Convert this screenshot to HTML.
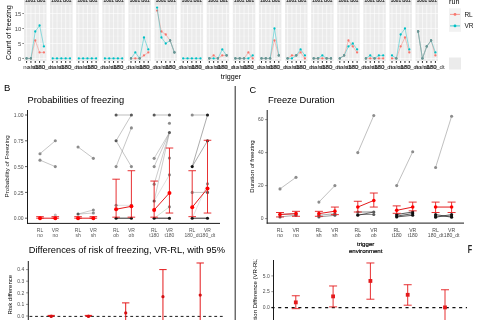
<!DOCTYPE html>
<html><head><meta charset="utf-8"><style>
html,body{margin:0;padding:0;background:#fff;width:480px;height:320px;overflow:hidden}
svg{display:block;font-family:"Liberation Sans", sans-serif;filter:blur(0.3px)}
</style></head><body>
<svg width="480" height="320" viewBox="0 0 480 320">
<rect width="480" height="320" fill="#fff"/>
<rect x="24" y="-6" width="22.5" height="11" fill="#E3E3E3"/>
<text x="35.25" y="1.9" font-size="6.6" fill="#222" stroke="#222" stroke-width="0.2" text-anchor="middle" textLength="20" lengthAdjust="spacingAndGlyphs">1001 B01</text>
<rect x="24" y="5.0" width="22.5" height="56.0" fill="#EBEBEB"/>
<line x1="24" x2="46.5" y1="50.96" y2="50.96" stroke="#F7F7F7" stroke-width="0.35"/>
<line x1="24" x2="46.5" y1="35.99" y2="35.99" stroke="#F7F7F7" stroke-width="0.35"/>
<line x1="24" x2="46.5" y1="21.01" y2="21.01" stroke="#F7F7F7" stroke-width="0.35"/>
<line x1="24" x2="46.5" y1="6.04" y2="6.04" stroke="#F7F7F7" stroke-width="0.35"/>
<line x1="24" x2="46.5" y1="58.45" y2="58.45" stroke="#FFFFFF" stroke-width="0.6"/>
<line x1="24" x2="46.5" y1="43.48" y2="43.48" stroke="#FFFFFF" stroke-width="0.6"/>
<line x1="24" x2="46.5" y1="28.5" y2="28.5" stroke="#FFFFFF" stroke-width="0.6"/>
<line x1="24" x2="46.5" y1="13.52" y2="13.52" stroke="#FFFFFF" stroke-width="0.6"/>
<line x1="26.6" x2="26.6" y1="5.0" y2="61.0" stroke="#FFFFFF" stroke-width="0.6"/>
<line x1="26.6" x2="26.6" y1="61.1" y2="62.8" stroke="#111" stroke-width="1.0"/>
<line x1="30.93" x2="30.93" y1="5.0" y2="61.0" stroke="#FFFFFF" stroke-width="0.6"/>
<line x1="30.93" x2="30.93" y1="61.1" y2="62.8" stroke="#111" stroke-width="1.0"/>
<line x1="35.25" x2="35.25" y1="5.0" y2="61.0" stroke="#FFFFFF" stroke-width="0.6"/>
<line x1="35.25" x2="35.25" y1="61.1" y2="62.8" stroke="#111" stroke-width="1.0"/>
<line x1="39.58" x2="39.58" y1="5.0" y2="61.0" stroke="#FFFFFF" stroke-width="0.6"/>
<line x1="39.58" x2="39.58" y1="61.1" y2="62.8" stroke="#111" stroke-width="1.0"/>
<line x1="43.91" x2="43.91" y1="5.0" y2="61.0" stroke="#FFFFFF" stroke-width="0.6"/>
<line x1="43.91" x2="43.91" y1="61.1" y2="62.8" stroke="#111" stroke-width="1.0"/>
<text x="26.6" y="69.2" font-size="6" fill="#2E2E2E" text-anchor="middle">no</text>
<text x="30.93" y="69.2" font-size="6" fill="#2E2E2E" text-anchor="middle">sh</text>
<text x="35.25" y="69.2" font-size="6" fill="#2E2E2E" text-anchor="middle">ob</text>
<text x="39.58" y="69.2" font-size="6" fill="#2E2E2E" text-anchor="middle">t180</text>
<text x="43.91" y="69.2" font-size="6" fill="#2E2E2E" text-anchor="middle">180_dt</text>
<polyline points="26.6,58.45 30.93,58.45 35.25,40.48 39.58,52.46 43.91,52.46" fill="none" stroke="#F8766D" stroke-width="0.6" stroke-opacity="0.7"/>
<circle cx="26.6" cy="58.45" r="1.15" fill="#F8766D"/>
<circle cx="30.93" cy="58.45" r="1.15" fill="#F8766D"/>
<circle cx="35.25" cy="40.48" r="1.15" fill="#F8766D"/>
<circle cx="39.58" cy="52.46" r="1.15" fill="#F8766D"/>
<circle cx="43.91" cy="52.46" r="1.15" fill="#F8766D"/>
<polyline points="26.6,58.45 30.93,58.45 35.25,31.5 39.58,25.51 43.91,46.47" fill="none" stroke="#00BFC4" stroke-width="0.6" stroke-opacity="0.7"/>
<circle cx="26.6" cy="58.45" r="1.15" fill="#00BFC4"/>
<circle cx="30.93" cy="58.45" r="1.15" fill="#00BFC4"/>
<circle cx="35.25" cy="31.5" r="1.15" fill="#00BFC4"/>
<circle cx="39.58" cy="25.51" r="1.15" fill="#00BFC4"/>
<circle cx="43.91" cy="46.47" r="1.15" fill="#00BFC4"/>
<line x1="26.6" y1="58.45" x2="30.93" y2="58.45" stroke="#8AA8A6" stroke-width="0.6"/>
<circle cx="26.6" cy="58.45" r="1.15" fill="#72918F"/>
<circle cx="30.93" cy="58.45" r="1.15" fill="#72918F"/>
<rect x="50.1" y="-6" width="22.5" height="11" fill="#E3E3E3"/>
<text x="61.35" y="1.9" font-size="6.6" fill="#222" stroke="#222" stroke-width="0.2" text-anchor="middle" textLength="20" lengthAdjust="spacingAndGlyphs">1001 B01</text>
<rect x="50.1" y="5.0" width="22.5" height="56.0" fill="#EBEBEB"/>
<line x1="50.1" x2="72.6" y1="50.96" y2="50.96" stroke="#F7F7F7" stroke-width="0.35"/>
<line x1="50.1" x2="72.6" y1="35.99" y2="35.99" stroke="#F7F7F7" stroke-width="0.35"/>
<line x1="50.1" x2="72.6" y1="21.01" y2="21.01" stroke="#F7F7F7" stroke-width="0.35"/>
<line x1="50.1" x2="72.6" y1="6.04" y2="6.04" stroke="#F7F7F7" stroke-width="0.35"/>
<line x1="50.1" x2="72.6" y1="58.45" y2="58.45" stroke="#FFFFFF" stroke-width="0.6"/>
<line x1="50.1" x2="72.6" y1="43.48" y2="43.48" stroke="#FFFFFF" stroke-width="0.6"/>
<line x1="50.1" x2="72.6" y1="28.5" y2="28.5" stroke="#FFFFFF" stroke-width="0.6"/>
<line x1="50.1" x2="72.6" y1="13.52" y2="13.52" stroke="#FFFFFF" stroke-width="0.6"/>
<line x1="52.7" x2="52.7" y1="5.0" y2="61.0" stroke="#FFFFFF" stroke-width="0.6"/>
<line x1="52.7" x2="52.7" y1="61.1" y2="62.8" stroke="#111" stroke-width="1.0"/>
<line x1="57.03" x2="57.03" y1="5.0" y2="61.0" stroke="#FFFFFF" stroke-width="0.6"/>
<line x1="57.03" x2="57.03" y1="61.1" y2="62.8" stroke="#111" stroke-width="1.0"/>
<line x1="61.35" x2="61.35" y1="5.0" y2="61.0" stroke="#FFFFFF" stroke-width="0.6"/>
<line x1="61.35" x2="61.35" y1="61.1" y2="62.8" stroke="#111" stroke-width="1.0"/>
<line x1="65.68" x2="65.68" y1="5.0" y2="61.0" stroke="#FFFFFF" stroke-width="0.6"/>
<line x1="65.68" x2="65.68" y1="61.1" y2="62.8" stroke="#111" stroke-width="1.0"/>
<line x1="70.01" x2="70.01" y1="5.0" y2="61.0" stroke="#FFFFFF" stroke-width="0.6"/>
<line x1="70.01" x2="70.01" y1="61.1" y2="62.8" stroke="#111" stroke-width="1.0"/>
<text x="52.7" y="69.2" font-size="6" fill="#2E2E2E" text-anchor="middle">no</text>
<text x="57.03" y="69.2" font-size="6" fill="#2E2E2E" text-anchor="middle">sh</text>
<text x="61.35" y="69.2" font-size="6" fill="#2E2E2E" text-anchor="middle">ob</text>
<text x="65.68" y="69.2" font-size="6" fill="#2E2E2E" text-anchor="middle">t180</text>
<text x="70.01" y="69.2" font-size="6" fill="#2E2E2E" text-anchor="middle">180_dt</text>
<polyline points="52.7,58.45 57.03,58.45 61.35,58.45 65.68,58.45 70.01,58.45" fill="none" stroke="#00BFC4" stroke-width="0.6" stroke-opacity="0.7"/>
<circle cx="52.7" cy="58.45" r="1.15" fill="#00BFC4"/>
<circle cx="57.03" cy="58.45" r="1.15" fill="#00BFC4"/>
<circle cx="61.35" cy="58.45" r="1.15" fill="#00BFC4"/>
<circle cx="65.68" cy="58.45" r="1.15" fill="#00BFC4"/>
<circle cx="70.01" cy="58.45" r="1.15" fill="#00BFC4"/>
<rect x="76.2" y="-6" width="22.5" height="11" fill="#E3E3E3"/>
<text x="87.45" y="1.9" font-size="6.6" fill="#222" stroke="#222" stroke-width="0.2" text-anchor="middle" textLength="20" lengthAdjust="spacingAndGlyphs">1001 B01</text>
<rect x="76.2" y="5.0" width="22.5" height="56.0" fill="#EBEBEB"/>
<line x1="76.2" x2="98.7" y1="50.96" y2="50.96" stroke="#F7F7F7" stroke-width="0.35"/>
<line x1="76.2" x2="98.7" y1="35.99" y2="35.99" stroke="#F7F7F7" stroke-width="0.35"/>
<line x1="76.2" x2="98.7" y1="21.01" y2="21.01" stroke="#F7F7F7" stroke-width="0.35"/>
<line x1="76.2" x2="98.7" y1="6.04" y2="6.04" stroke="#F7F7F7" stroke-width="0.35"/>
<line x1="76.2" x2="98.7" y1="58.45" y2="58.45" stroke="#FFFFFF" stroke-width="0.6"/>
<line x1="76.2" x2="98.7" y1="43.48" y2="43.48" stroke="#FFFFFF" stroke-width="0.6"/>
<line x1="76.2" x2="98.7" y1="28.5" y2="28.5" stroke="#FFFFFF" stroke-width="0.6"/>
<line x1="76.2" x2="98.7" y1="13.52" y2="13.52" stroke="#FFFFFF" stroke-width="0.6"/>
<line x1="78.8" x2="78.8" y1="5.0" y2="61.0" stroke="#FFFFFF" stroke-width="0.6"/>
<line x1="78.8" x2="78.8" y1="61.1" y2="62.8" stroke="#111" stroke-width="1.0"/>
<line x1="83.13" x2="83.13" y1="5.0" y2="61.0" stroke="#FFFFFF" stroke-width="0.6"/>
<line x1="83.13" x2="83.13" y1="61.1" y2="62.8" stroke="#111" stroke-width="1.0"/>
<line x1="87.45" x2="87.45" y1="5.0" y2="61.0" stroke="#FFFFFF" stroke-width="0.6"/>
<line x1="87.45" x2="87.45" y1="61.1" y2="62.8" stroke="#111" stroke-width="1.0"/>
<line x1="91.78" x2="91.78" y1="5.0" y2="61.0" stroke="#FFFFFF" stroke-width="0.6"/>
<line x1="91.78" x2="91.78" y1="61.1" y2="62.8" stroke="#111" stroke-width="1.0"/>
<line x1="96.11" x2="96.11" y1="5.0" y2="61.0" stroke="#FFFFFF" stroke-width="0.6"/>
<line x1="96.11" x2="96.11" y1="61.1" y2="62.8" stroke="#111" stroke-width="1.0"/>
<text x="78.8" y="69.2" font-size="6" fill="#2E2E2E" text-anchor="middle">no</text>
<text x="83.13" y="69.2" font-size="6" fill="#2E2E2E" text-anchor="middle">sh</text>
<text x="87.45" y="69.2" font-size="6" fill="#2E2E2E" text-anchor="middle">ob</text>
<text x="91.78" y="69.2" font-size="6" fill="#2E2E2E" text-anchor="middle">t180</text>
<text x="96.11" y="69.2" font-size="6" fill="#2E2E2E" text-anchor="middle">180_dt</text>
<polyline points="78.8,58.45 83.13,58.45 87.45,58.45 91.78,58.45 96.11,58.45" fill="none" stroke="#00BFC4" stroke-width="0.6" stroke-opacity="0.7"/>
<circle cx="78.8" cy="58.45" r="1.15" fill="#00BFC4"/>
<circle cx="83.13" cy="58.45" r="1.15" fill="#00BFC4"/>
<circle cx="87.45" cy="58.45" r="1.15" fill="#00BFC4"/>
<circle cx="91.78" cy="58.45" r="1.15" fill="#00BFC4"/>
<circle cx="96.11" cy="58.45" r="1.15" fill="#00BFC4"/>
<rect x="102.3" y="-6" width="22.5" height="11" fill="#E3E3E3"/>
<text x="113.55" y="1.9" font-size="6.6" fill="#222" stroke="#222" stroke-width="0.2" text-anchor="middle" textLength="20" lengthAdjust="spacingAndGlyphs">1001 B01</text>
<rect x="102.3" y="5.0" width="22.5" height="56.0" fill="#EBEBEB"/>
<line x1="102.3" x2="124.8" y1="50.96" y2="50.96" stroke="#F7F7F7" stroke-width="0.35"/>
<line x1="102.3" x2="124.8" y1="35.99" y2="35.99" stroke="#F7F7F7" stroke-width="0.35"/>
<line x1="102.3" x2="124.8" y1="21.01" y2="21.01" stroke="#F7F7F7" stroke-width="0.35"/>
<line x1="102.3" x2="124.8" y1="6.04" y2="6.04" stroke="#F7F7F7" stroke-width="0.35"/>
<line x1="102.3" x2="124.8" y1="58.45" y2="58.45" stroke="#FFFFFF" stroke-width="0.6"/>
<line x1="102.3" x2="124.8" y1="43.48" y2="43.48" stroke="#FFFFFF" stroke-width="0.6"/>
<line x1="102.3" x2="124.8" y1="28.5" y2="28.5" stroke="#FFFFFF" stroke-width="0.6"/>
<line x1="102.3" x2="124.8" y1="13.52" y2="13.52" stroke="#FFFFFF" stroke-width="0.6"/>
<line x1="104.9" x2="104.9" y1="5.0" y2="61.0" stroke="#FFFFFF" stroke-width="0.6"/>
<line x1="104.9" x2="104.9" y1="61.1" y2="62.8" stroke="#111" stroke-width="1.0"/>
<line x1="109.23" x2="109.23" y1="5.0" y2="61.0" stroke="#FFFFFF" stroke-width="0.6"/>
<line x1="109.23" x2="109.23" y1="61.1" y2="62.8" stroke="#111" stroke-width="1.0"/>
<line x1="113.55" x2="113.55" y1="5.0" y2="61.0" stroke="#FFFFFF" stroke-width="0.6"/>
<line x1="113.55" x2="113.55" y1="61.1" y2="62.8" stroke="#111" stroke-width="1.0"/>
<line x1="117.88" x2="117.88" y1="5.0" y2="61.0" stroke="#FFFFFF" stroke-width="0.6"/>
<line x1="117.88" x2="117.88" y1="61.1" y2="62.8" stroke="#111" stroke-width="1.0"/>
<line x1="122.21" x2="122.21" y1="5.0" y2="61.0" stroke="#FFFFFF" stroke-width="0.6"/>
<line x1="122.21" x2="122.21" y1="61.1" y2="62.8" stroke="#111" stroke-width="1.0"/>
<text x="104.9" y="69.2" font-size="6" fill="#2E2E2E" text-anchor="middle">no</text>
<text x="109.23" y="69.2" font-size="6" fill="#2E2E2E" text-anchor="middle">sh</text>
<text x="113.55" y="69.2" font-size="6" fill="#2E2E2E" text-anchor="middle">ob</text>
<text x="117.88" y="69.2" font-size="6" fill="#2E2E2E" text-anchor="middle">t180</text>
<text x="122.21" y="69.2" font-size="6" fill="#2E2E2E" text-anchor="middle">180_dt</text>
<polyline points="104.9,58.45 109.23,58.45 113.55,58.45 117.88,58.45 122.21,58.45" fill="none" stroke="#00BFC4" stroke-width="0.6" stroke-opacity="0.7"/>
<circle cx="104.9" cy="58.45" r="1.15" fill="#00BFC4"/>
<circle cx="109.23" cy="58.45" r="1.15" fill="#00BFC4"/>
<circle cx="113.55" cy="58.45" r="1.15" fill="#00BFC4"/>
<circle cx="117.88" cy="58.45" r="1.15" fill="#00BFC4"/>
<circle cx="122.21" cy="58.45" r="1.15" fill="#00BFC4"/>
<rect x="128.4" y="-6" width="22.5" height="11" fill="#E3E3E3"/>
<text x="139.65" y="1.9" font-size="6.6" fill="#222" stroke="#222" stroke-width="0.2" text-anchor="middle" textLength="20" lengthAdjust="spacingAndGlyphs">1001 B01</text>
<rect x="128.4" y="5.0" width="22.5" height="56.0" fill="#EBEBEB"/>
<line x1="128.4" x2="150.9" y1="50.96" y2="50.96" stroke="#F7F7F7" stroke-width="0.35"/>
<line x1="128.4" x2="150.9" y1="35.99" y2="35.99" stroke="#F7F7F7" stroke-width="0.35"/>
<line x1="128.4" x2="150.9" y1="21.01" y2="21.01" stroke="#F7F7F7" stroke-width="0.35"/>
<line x1="128.4" x2="150.9" y1="6.04" y2="6.04" stroke="#F7F7F7" stroke-width="0.35"/>
<line x1="128.4" x2="150.9" y1="58.45" y2="58.45" stroke="#FFFFFF" stroke-width="0.6"/>
<line x1="128.4" x2="150.9" y1="43.48" y2="43.48" stroke="#FFFFFF" stroke-width="0.6"/>
<line x1="128.4" x2="150.9" y1="28.5" y2="28.5" stroke="#FFFFFF" stroke-width="0.6"/>
<line x1="128.4" x2="150.9" y1="13.52" y2="13.52" stroke="#FFFFFF" stroke-width="0.6"/>
<line x1="131" x2="131" y1="5.0" y2="61.0" stroke="#FFFFFF" stroke-width="0.6"/>
<line x1="131" x2="131" y1="61.1" y2="62.8" stroke="#111" stroke-width="1.0"/>
<line x1="135.33" x2="135.33" y1="5.0" y2="61.0" stroke="#FFFFFF" stroke-width="0.6"/>
<line x1="135.33" x2="135.33" y1="61.1" y2="62.8" stroke="#111" stroke-width="1.0"/>
<line x1="139.65" x2="139.65" y1="5.0" y2="61.0" stroke="#FFFFFF" stroke-width="0.6"/>
<line x1="139.65" x2="139.65" y1="61.1" y2="62.8" stroke="#111" stroke-width="1.0"/>
<line x1="143.98" x2="143.98" y1="5.0" y2="61.0" stroke="#FFFFFF" stroke-width="0.6"/>
<line x1="143.98" x2="143.98" y1="61.1" y2="62.8" stroke="#111" stroke-width="1.0"/>
<line x1="148.31" x2="148.31" y1="5.0" y2="61.0" stroke="#FFFFFF" stroke-width="0.6"/>
<line x1="148.31" x2="148.31" y1="61.1" y2="62.8" stroke="#111" stroke-width="1.0"/>
<text x="131" y="69.2" font-size="6" fill="#2E2E2E" text-anchor="middle">no</text>
<text x="135.33" y="69.2" font-size="6" fill="#2E2E2E" text-anchor="middle">sh</text>
<text x="139.65" y="69.2" font-size="6" fill="#2E2E2E" text-anchor="middle">ob</text>
<text x="143.98" y="69.2" font-size="6" fill="#2E2E2E" text-anchor="middle">t180</text>
<text x="148.31" y="69.2" font-size="6" fill="#2E2E2E" text-anchor="middle">180_dt</text>
<polyline points="131,58.45 135.33,58.45 139.65,58.45 143.98,55.46 148.31,52.46" fill="none" stroke="#F8766D" stroke-width="0.6" stroke-opacity="0.7"/>
<circle cx="131" cy="58.45" r="1.15" fill="#F8766D"/>
<circle cx="135.33" cy="58.45" r="1.15" fill="#F8766D"/>
<circle cx="139.65" cy="58.45" r="1.15" fill="#F8766D"/>
<circle cx="143.98" cy="55.46" r="1.15" fill="#F8766D"/>
<circle cx="148.31" cy="52.46" r="1.15" fill="#F8766D"/>
<polyline points="131,58.45 135.33,52.46 139.65,58.45 143.98,37.48 148.31,49.47" fill="none" stroke="#00BFC4" stroke-width="0.6" stroke-opacity="0.7"/>
<circle cx="131" cy="58.45" r="1.15" fill="#00BFC4"/>
<circle cx="135.33" cy="52.46" r="1.15" fill="#00BFC4"/>
<circle cx="139.65" cy="58.45" r="1.15" fill="#00BFC4"/>
<circle cx="143.98" cy="37.48" r="1.15" fill="#00BFC4"/>
<circle cx="148.31" cy="49.47" r="1.15" fill="#00BFC4"/>
<circle cx="131" cy="58.45" r="1.15" fill="#72918F"/>
<circle cx="139.65" cy="58.45" r="1.15" fill="#72918F"/>
<rect x="154.5" y="-6" width="22.5" height="11" fill="#E3E3E3"/>
<text x="165.75" y="1.9" font-size="6.6" fill="#222" stroke="#222" stroke-width="0.2" text-anchor="middle" textLength="20" lengthAdjust="spacingAndGlyphs">1001 B01</text>
<rect x="154.5" y="5.0" width="22.5" height="56.0" fill="#EBEBEB"/>
<line x1="154.5" x2="177" y1="50.96" y2="50.96" stroke="#F7F7F7" stroke-width="0.35"/>
<line x1="154.5" x2="177" y1="35.99" y2="35.99" stroke="#F7F7F7" stroke-width="0.35"/>
<line x1="154.5" x2="177" y1="21.01" y2="21.01" stroke="#F7F7F7" stroke-width="0.35"/>
<line x1="154.5" x2="177" y1="6.04" y2="6.04" stroke="#F7F7F7" stroke-width="0.35"/>
<line x1="154.5" x2="177" y1="58.45" y2="58.45" stroke="#FFFFFF" stroke-width="0.6"/>
<line x1="154.5" x2="177" y1="43.48" y2="43.48" stroke="#FFFFFF" stroke-width="0.6"/>
<line x1="154.5" x2="177" y1="28.5" y2="28.5" stroke="#FFFFFF" stroke-width="0.6"/>
<line x1="154.5" x2="177" y1="13.52" y2="13.52" stroke="#FFFFFF" stroke-width="0.6"/>
<line x1="157.1" x2="157.1" y1="5.0" y2="61.0" stroke="#FFFFFF" stroke-width="0.6"/>
<line x1="157.1" x2="157.1" y1="61.1" y2="62.8" stroke="#111" stroke-width="1.0"/>
<line x1="161.43" x2="161.43" y1="5.0" y2="61.0" stroke="#FFFFFF" stroke-width="0.6"/>
<line x1="161.43" x2="161.43" y1="61.1" y2="62.8" stroke="#111" stroke-width="1.0"/>
<line x1="165.75" x2="165.75" y1="5.0" y2="61.0" stroke="#FFFFFF" stroke-width="0.6"/>
<line x1="165.75" x2="165.75" y1="61.1" y2="62.8" stroke="#111" stroke-width="1.0"/>
<line x1="170.08" x2="170.08" y1="5.0" y2="61.0" stroke="#FFFFFF" stroke-width="0.6"/>
<line x1="170.08" x2="170.08" y1="61.1" y2="62.8" stroke="#111" stroke-width="1.0"/>
<line x1="174.41" x2="174.41" y1="5.0" y2="61.0" stroke="#FFFFFF" stroke-width="0.6"/>
<line x1="174.41" x2="174.41" y1="61.1" y2="62.8" stroke="#111" stroke-width="1.0"/>
<text x="157.1" y="69.2" font-size="6" fill="#2E2E2E" text-anchor="middle">no</text>
<text x="161.43" y="69.2" font-size="6" fill="#2E2E2E" text-anchor="middle">sh</text>
<text x="165.75" y="69.2" font-size="6" fill="#2E2E2E" text-anchor="middle">ob</text>
<text x="170.08" y="69.2" font-size="6" fill="#2E2E2E" text-anchor="middle">t180</text>
<text x="174.41" y="69.2" font-size="6" fill="#2E2E2E" text-anchor="middle">180_dt</text>
<polyline points="157.1,10.53 161.43,31.5 165.75,34.49 170.08,40.48 174.41,52.46" fill="none" stroke="#F8766D" stroke-width="0.6" stroke-opacity="0.7"/>
<circle cx="157.1" cy="10.53" r="1.15" fill="#F8766D"/>
<circle cx="161.43" cy="31.5" r="1.15" fill="#F8766D"/>
<circle cx="165.75" cy="34.49" r="1.15" fill="#F8766D"/>
<circle cx="170.08" cy="40.48" r="1.15" fill="#F8766D"/>
<circle cx="174.41" cy="52.46" r="1.15" fill="#F8766D"/>
<polyline points="157.1,7.54 161.43,37.48 165.75,43.48 170.08,40.48 174.41,52.46" fill="none" stroke="#00BFC4" stroke-width="0.6" stroke-opacity="0.7"/>
<circle cx="157.1" cy="7.54" r="1.15" fill="#00BFC4"/>
<circle cx="161.43" cy="37.48" r="1.15" fill="#00BFC4"/>
<circle cx="165.75" cy="43.48" r="1.15" fill="#00BFC4"/>
<circle cx="170.08" cy="40.48" r="1.15" fill="#00BFC4"/>
<circle cx="174.41" cy="52.46" r="1.15" fill="#00BFC4"/>
<line x1="170.08" y1="40.48" x2="174.41" y2="52.46" stroke="#8AA8A6" stroke-width="0.6"/>
<circle cx="170.08" cy="40.48" r="1.15" fill="#72918F"/>
<circle cx="174.41" cy="52.46" r="1.15" fill="#72918F"/>
<rect x="180.6" y="-6" width="22.5" height="11" fill="#E3E3E3"/>
<text x="191.85" y="1.9" font-size="6.6" fill="#222" stroke="#222" stroke-width="0.2" text-anchor="middle" textLength="20" lengthAdjust="spacingAndGlyphs">1001 B01</text>
<rect x="180.6" y="5.0" width="22.5" height="56.0" fill="#EBEBEB"/>
<line x1="180.6" x2="203.1" y1="50.96" y2="50.96" stroke="#F7F7F7" stroke-width="0.35"/>
<line x1="180.6" x2="203.1" y1="35.99" y2="35.99" stroke="#F7F7F7" stroke-width="0.35"/>
<line x1="180.6" x2="203.1" y1="21.01" y2="21.01" stroke="#F7F7F7" stroke-width="0.35"/>
<line x1="180.6" x2="203.1" y1="6.04" y2="6.04" stroke="#F7F7F7" stroke-width="0.35"/>
<line x1="180.6" x2="203.1" y1="58.45" y2="58.45" stroke="#FFFFFF" stroke-width="0.6"/>
<line x1="180.6" x2="203.1" y1="43.48" y2="43.48" stroke="#FFFFFF" stroke-width="0.6"/>
<line x1="180.6" x2="203.1" y1="28.5" y2="28.5" stroke="#FFFFFF" stroke-width="0.6"/>
<line x1="180.6" x2="203.1" y1="13.52" y2="13.52" stroke="#FFFFFF" stroke-width="0.6"/>
<line x1="183.2" x2="183.2" y1="5.0" y2="61.0" stroke="#FFFFFF" stroke-width="0.6"/>
<line x1="183.2" x2="183.2" y1="61.1" y2="62.8" stroke="#111" stroke-width="1.0"/>
<line x1="187.53" x2="187.53" y1="5.0" y2="61.0" stroke="#FFFFFF" stroke-width="0.6"/>
<line x1="187.53" x2="187.53" y1="61.1" y2="62.8" stroke="#111" stroke-width="1.0"/>
<line x1="191.85" x2="191.85" y1="5.0" y2="61.0" stroke="#FFFFFF" stroke-width="0.6"/>
<line x1="191.85" x2="191.85" y1="61.1" y2="62.8" stroke="#111" stroke-width="1.0"/>
<line x1="196.18" x2="196.18" y1="5.0" y2="61.0" stroke="#FFFFFF" stroke-width="0.6"/>
<line x1="196.18" x2="196.18" y1="61.1" y2="62.8" stroke="#111" stroke-width="1.0"/>
<line x1="200.51" x2="200.51" y1="5.0" y2="61.0" stroke="#FFFFFF" stroke-width="0.6"/>
<line x1="200.51" x2="200.51" y1="61.1" y2="62.8" stroke="#111" stroke-width="1.0"/>
<text x="183.2" y="69.2" font-size="6" fill="#2E2E2E" text-anchor="middle">no</text>
<text x="187.53" y="69.2" font-size="6" fill="#2E2E2E" text-anchor="middle">sh</text>
<text x="191.85" y="69.2" font-size="6" fill="#2E2E2E" text-anchor="middle">ob</text>
<text x="196.18" y="69.2" font-size="6" fill="#2E2E2E" text-anchor="middle">t180</text>
<text x="200.51" y="69.2" font-size="6" fill="#2E2E2E" text-anchor="middle">180_dt</text>
<polyline points="183.2,58.45 187.53,58.45 191.85,58.45 196.18,58.45 200.51,58.45" fill="none" stroke="#00BFC4" stroke-width="0.6" stroke-opacity="0.7"/>
<circle cx="183.2" cy="58.45" r="1.15" fill="#00BFC4"/>
<circle cx="187.53" cy="58.45" r="1.15" fill="#00BFC4"/>
<circle cx="191.85" cy="58.45" r="1.15" fill="#00BFC4"/>
<circle cx="196.18" cy="58.45" r="1.15" fill="#00BFC4"/>
<circle cx="200.51" cy="58.45" r="1.15" fill="#00BFC4"/>
<rect x="206.7" y="-6" width="22.5" height="11" fill="#E3E3E3"/>
<text x="217.95" y="1.9" font-size="6.6" fill="#222" stroke="#222" stroke-width="0.2" text-anchor="middle" textLength="20" lengthAdjust="spacingAndGlyphs">1001 B01</text>
<rect x="206.7" y="5.0" width="22.5" height="56.0" fill="#EBEBEB"/>
<line x1="206.7" x2="229.2" y1="50.96" y2="50.96" stroke="#F7F7F7" stroke-width="0.35"/>
<line x1="206.7" x2="229.2" y1="35.99" y2="35.99" stroke="#F7F7F7" stroke-width="0.35"/>
<line x1="206.7" x2="229.2" y1="21.01" y2="21.01" stroke="#F7F7F7" stroke-width="0.35"/>
<line x1="206.7" x2="229.2" y1="6.04" y2="6.04" stroke="#F7F7F7" stroke-width="0.35"/>
<line x1="206.7" x2="229.2" y1="58.45" y2="58.45" stroke="#FFFFFF" stroke-width="0.6"/>
<line x1="206.7" x2="229.2" y1="43.48" y2="43.48" stroke="#FFFFFF" stroke-width="0.6"/>
<line x1="206.7" x2="229.2" y1="28.5" y2="28.5" stroke="#FFFFFF" stroke-width="0.6"/>
<line x1="206.7" x2="229.2" y1="13.52" y2="13.52" stroke="#FFFFFF" stroke-width="0.6"/>
<line x1="209.3" x2="209.3" y1="5.0" y2="61.0" stroke="#FFFFFF" stroke-width="0.6"/>
<line x1="209.3" x2="209.3" y1="61.1" y2="62.8" stroke="#111" stroke-width="1.0"/>
<line x1="213.63" x2="213.63" y1="5.0" y2="61.0" stroke="#FFFFFF" stroke-width="0.6"/>
<line x1="213.63" x2="213.63" y1="61.1" y2="62.8" stroke="#111" stroke-width="1.0"/>
<line x1="217.95" x2="217.95" y1="5.0" y2="61.0" stroke="#FFFFFF" stroke-width="0.6"/>
<line x1="217.95" x2="217.95" y1="61.1" y2="62.8" stroke="#111" stroke-width="1.0"/>
<line x1="222.28" x2="222.28" y1="5.0" y2="61.0" stroke="#FFFFFF" stroke-width="0.6"/>
<line x1="222.28" x2="222.28" y1="61.1" y2="62.8" stroke="#111" stroke-width="1.0"/>
<line x1="226.61" x2="226.61" y1="5.0" y2="61.0" stroke="#FFFFFF" stroke-width="0.6"/>
<line x1="226.61" x2="226.61" y1="61.1" y2="62.8" stroke="#111" stroke-width="1.0"/>
<text x="209.3" y="69.2" font-size="6" fill="#2E2E2E" text-anchor="middle">no</text>
<text x="213.63" y="69.2" font-size="6" fill="#2E2E2E" text-anchor="middle">sh</text>
<text x="217.95" y="69.2" font-size="6" fill="#2E2E2E" text-anchor="middle">ob</text>
<text x="222.28" y="69.2" font-size="6" fill="#2E2E2E" text-anchor="middle">t180</text>
<text x="226.61" y="69.2" font-size="6" fill="#2E2E2E" text-anchor="middle">180_dt</text>
<polyline points="209.3,58.45 213.63,55.46 217.95,58.45 222.28,55.46 226.61,55.46" fill="none" stroke="#F8766D" stroke-width="0.6" stroke-opacity="0.7"/>
<circle cx="209.3" cy="58.45" r="1.15" fill="#F8766D"/>
<circle cx="213.63" cy="55.46" r="1.15" fill="#F8766D"/>
<circle cx="217.95" cy="58.45" r="1.15" fill="#F8766D"/>
<circle cx="222.28" cy="55.46" r="1.15" fill="#F8766D"/>
<circle cx="226.61" cy="55.46" r="1.15" fill="#F8766D"/>
<polyline points="209.3,58.45 213.63,58.45 217.95,58.45 222.28,49.47 226.61,55.46" fill="none" stroke="#00BFC4" stroke-width="0.6" stroke-opacity="0.7"/>
<circle cx="209.3" cy="58.45" r="1.15" fill="#00BFC4"/>
<circle cx="213.63" cy="58.45" r="1.15" fill="#00BFC4"/>
<circle cx="217.95" cy="58.45" r="1.15" fill="#00BFC4"/>
<circle cx="222.28" cy="49.47" r="1.15" fill="#00BFC4"/>
<circle cx="226.61" cy="55.46" r="1.15" fill="#00BFC4"/>
<circle cx="209.3" cy="58.45" r="1.15" fill="#72918F"/>
<circle cx="217.95" cy="58.45" r="1.15" fill="#72918F"/>
<circle cx="226.61" cy="55.46" r="1.15" fill="#72918F"/>
<rect x="232.8" y="-6" width="22.5" height="11" fill="#E3E3E3"/>
<text x="244.05" y="1.9" font-size="6.6" fill="#222" stroke="#222" stroke-width="0.2" text-anchor="middle" textLength="20" lengthAdjust="spacingAndGlyphs">1001 B01</text>
<rect x="232.8" y="5.0" width="22.5" height="56.0" fill="#EBEBEB"/>
<line x1="232.8" x2="255.3" y1="50.96" y2="50.96" stroke="#F7F7F7" stroke-width="0.35"/>
<line x1="232.8" x2="255.3" y1="35.99" y2="35.99" stroke="#F7F7F7" stroke-width="0.35"/>
<line x1="232.8" x2="255.3" y1="21.01" y2="21.01" stroke="#F7F7F7" stroke-width="0.35"/>
<line x1="232.8" x2="255.3" y1="6.04" y2="6.04" stroke="#F7F7F7" stroke-width="0.35"/>
<line x1="232.8" x2="255.3" y1="58.45" y2="58.45" stroke="#FFFFFF" stroke-width="0.6"/>
<line x1="232.8" x2="255.3" y1="43.48" y2="43.48" stroke="#FFFFFF" stroke-width="0.6"/>
<line x1="232.8" x2="255.3" y1="28.5" y2="28.5" stroke="#FFFFFF" stroke-width="0.6"/>
<line x1="232.8" x2="255.3" y1="13.52" y2="13.52" stroke="#FFFFFF" stroke-width="0.6"/>
<line x1="235.4" x2="235.4" y1="5.0" y2="61.0" stroke="#FFFFFF" stroke-width="0.6"/>
<line x1="235.4" x2="235.4" y1="61.1" y2="62.8" stroke="#111" stroke-width="1.0"/>
<line x1="239.73" x2="239.73" y1="5.0" y2="61.0" stroke="#FFFFFF" stroke-width="0.6"/>
<line x1="239.73" x2="239.73" y1="61.1" y2="62.8" stroke="#111" stroke-width="1.0"/>
<line x1="244.05" x2="244.05" y1="5.0" y2="61.0" stroke="#FFFFFF" stroke-width="0.6"/>
<line x1="244.05" x2="244.05" y1="61.1" y2="62.8" stroke="#111" stroke-width="1.0"/>
<line x1="248.38" x2="248.38" y1="5.0" y2="61.0" stroke="#FFFFFF" stroke-width="0.6"/>
<line x1="248.38" x2="248.38" y1="61.1" y2="62.8" stroke="#111" stroke-width="1.0"/>
<line x1="252.71" x2="252.71" y1="5.0" y2="61.0" stroke="#FFFFFF" stroke-width="0.6"/>
<line x1="252.71" x2="252.71" y1="61.1" y2="62.8" stroke="#111" stroke-width="1.0"/>
<text x="235.4" y="69.2" font-size="6" fill="#2E2E2E" text-anchor="middle">no</text>
<text x="239.73" y="69.2" font-size="6" fill="#2E2E2E" text-anchor="middle">sh</text>
<text x="244.05" y="69.2" font-size="6" fill="#2E2E2E" text-anchor="middle">ob</text>
<text x="248.38" y="69.2" font-size="6" fill="#2E2E2E" text-anchor="middle">t180</text>
<text x="252.71" y="69.2" font-size="6" fill="#2E2E2E" text-anchor="middle">180_dt</text>
<polyline points="235.4,58.45 239.73,58.45 244.05,58.45 248.38,52.46 252.71,58.45" fill="none" stroke="#F8766D" stroke-width="0.6" stroke-opacity="0.7"/>
<circle cx="235.4" cy="58.45" r="1.15" fill="#F8766D"/>
<circle cx="239.73" cy="58.45" r="1.15" fill="#F8766D"/>
<circle cx="244.05" cy="58.45" r="1.15" fill="#F8766D"/>
<circle cx="248.38" cy="52.46" r="1.15" fill="#F8766D"/>
<circle cx="252.71" cy="58.45" r="1.15" fill="#F8766D"/>
<polyline points="235.4,58.45 239.73,58.45 244.05,58.45 248.38,58.45 252.71,55.46" fill="none" stroke="#00BFC4" stroke-width="0.6" stroke-opacity="0.7"/>
<circle cx="235.4" cy="58.45" r="1.15" fill="#00BFC4"/>
<circle cx="239.73" cy="58.45" r="1.15" fill="#00BFC4"/>
<circle cx="244.05" cy="58.45" r="1.15" fill="#00BFC4"/>
<circle cx="248.38" cy="58.45" r="1.15" fill="#00BFC4"/>
<circle cx="252.71" cy="55.46" r="1.15" fill="#00BFC4"/>
<line x1="235.4" y1="58.45" x2="239.73" y2="58.45" stroke="#8AA8A6" stroke-width="0.6"/>
<line x1="239.73" y1="58.45" x2="244.05" y2="58.45" stroke="#8AA8A6" stroke-width="0.6"/>
<circle cx="235.4" cy="58.45" r="1.15" fill="#72918F"/>
<circle cx="239.73" cy="58.45" r="1.15" fill="#72918F"/>
<circle cx="244.05" cy="58.45" r="1.15" fill="#72918F"/>
<rect x="258.9" y="-6" width="22.5" height="11" fill="#E3E3E3"/>
<text x="270.15" y="1.9" font-size="6.6" fill="#222" stroke="#222" stroke-width="0.2" text-anchor="middle" textLength="20" lengthAdjust="spacingAndGlyphs">1001 B01</text>
<rect x="258.9" y="5.0" width="22.5" height="56.0" fill="#EBEBEB"/>
<line x1="258.9" x2="281.4" y1="50.96" y2="50.96" stroke="#F7F7F7" stroke-width="0.35"/>
<line x1="258.9" x2="281.4" y1="35.99" y2="35.99" stroke="#F7F7F7" stroke-width="0.35"/>
<line x1="258.9" x2="281.4" y1="21.01" y2="21.01" stroke="#F7F7F7" stroke-width="0.35"/>
<line x1="258.9" x2="281.4" y1="6.04" y2="6.04" stroke="#F7F7F7" stroke-width="0.35"/>
<line x1="258.9" x2="281.4" y1="58.45" y2="58.45" stroke="#FFFFFF" stroke-width="0.6"/>
<line x1="258.9" x2="281.4" y1="43.48" y2="43.48" stroke="#FFFFFF" stroke-width="0.6"/>
<line x1="258.9" x2="281.4" y1="28.5" y2="28.5" stroke="#FFFFFF" stroke-width="0.6"/>
<line x1="258.9" x2="281.4" y1="13.52" y2="13.52" stroke="#FFFFFF" stroke-width="0.6"/>
<line x1="261.5" x2="261.5" y1="5.0" y2="61.0" stroke="#FFFFFF" stroke-width="0.6"/>
<line x1="261.5" x2="261.5" y1="61.1" y2="62.8" stroke="#111" stroke-width="1.0"/>
<line x1="265.83" x2="265.83" y1="5.0" y2="61.0" stroke="#FFFFFF" stroke-width="0.6"/>
<line x1="265.83" x2="265.83" y1="61.1" y2="62.8" stroke="#111" stroke-width="1.0"/>
<line x1="270.15" x2="270.15" y1="5.0" y2="61.0" stroke="#FFFFFF" stroke-width="0.6"/>
<line x1="270.15" x2="270.15" y1="61.1" y2="62.8" stroke="#111" stroke-width="1.0"/>
<line x1="274.48" x2="274.48" y1="5.0" y2="61.0" stroke="#FFFFFF" stroke-width="0.6"/>
<line x1="274.48" x2="274.48" y1="61.1" y2="62.8" stroke="#111" stroke-width="1.0"/>
<line x1="278.81" x2="278.81" y1="5.0" y2="61.0" stroke="#FFFFFF" stroke-width="0.6"/>
<line x1="278.81" x2="278.81" y1="61.1" y2="62.8" stroke="#111" stroke-width="1.0"/>
<text x="261.5" y="69.2" font-size="6" fill="#2E2E2E" text-anchor="middle">no</text>
<text x="265.83" y="69.2" font-size="6" fill="#2E2E2E" text-anchor="middle">sh</text>
<text x="270.15" y="69.2" font-size="6" fill="#2E2E2E" text-anchor="middle">ob</text>
<text x="274.48" y="69.2" font-size="6" fill="#2E2E2E" text-anchor="middle">t180</text>
<text x="278.81" y="69.2" font-size="6" fill="#2E2E2E" text-anchor="middle">180_dt</text>
<polyline points="261.5,58.45 265.83,58.45 270.15,58.45 274.48,40.48 278.81,55.46" fill="none" stroke="#F8766D" stroke-width="0.6" stroke-opacity="0.7"/>
<circle cx="261.5" cy="58.45" r="1.15" fill="#F8766D"/>
<circle cx="265.83" cy="58.45" r="1.15" fill="#F8766D"/>
<circle cx="270.15" cy="58.45" r="1.15" fill="#F8766D"/>
<circle cx="274.48" cy="40.48" r="1.15" fill="#F8766D"/>
<circle cx="278.81" cy="55.46" r="1.15" fill="#F8766D"/>
<polyline points="261.5,58.45 265.83,58.45 270.15,58.45 274.48,28.5 278.81,55.46" fill="none" stroke="#00BFC4" stroke-width="0.6" stroke-opacity="0.7"/>
<circle cx="261.5" cy="58.45" r="1.15" fill="#00BFC4"/>
<circle cx="265.83" cy="58.45" r="1.15" fill="#00BFC4"/>
<circle cx="270.15" cy="58.45" r="1.15" fill="#00BFC4"/>
<circle cx="274.48" cy="28.5" r="1.15" fill="#00BFC4"/>
<circle cx="278.81" cy="55.46" r="1.15" fill="#00BFC4"/>
<line x1="261.5" y1="58.45" x2="265.83" y2="58.45" stroke="#8AA8A6" stroke-width="0.6"/>
<line x1="265.83" y1="58.45" x2="270.15" y2="58.45" stroke="#8AA8A6" stroke-width="0.6"/>
<circle cx="261.5" cy="58.45" r="1.15" fill="#72918F"/>
<circle cx="265.83" cy="58.45" r="1.15" fill="#72918F"/>
<circle cx="270.15" cy="58.45" r="1.15" fill="#72918F"/>
<circle cx="278.81" cy="55.46" r="1.15" fill="#72918F"/>
<rect x="285" y="-6" width="22.5" height="11" fill="#E3E3E3"/>
<text x="296.25" y="1.9" font-size="6.6" fill="#222" stroke="#222" stroke-width="0.2" text-anchor="middle" textLength="20" lengthAdjust="spacingAndGlyphs">1001 B01</text>
<rect x="285" y="5.0" width="22.5" height="56.0" fill="#EBEBEB"/>
<line x1="285" x2="307.5" y1="50.96" y2="50.96" stroke="#F7F7F7" stroke-width="0.35"/>
<line x1="285" x2="307.5" y1="35.99" y2="35.99" stroke="#F7F7F7" stroke-width="0.35"/>
<line x1="285" x2="307.5" y1="21.01" y2="21.01" stroke="#F7F7F7" stroke-width="0.35"/>
<line x1="285" x2="307.5" y1="6.04" y2="6.04" stroke="#F7F7F7" stroke-width="0.35"/>
<line x1="285" x2="307.5" y1="58.45" y2="58.45" stroke="#FFFFFF" stroke-width="0.6"/>
<line x1="285" x2="307.5" y1="43.48" y2="43.48" stroke="#FFFFFF" stroke-width="0.6"/>
<line x1="285" x2="307.5" y1="28.5" y2="28.5" stroke="#FFFFFF" stroke-width="0.6"/>
<line x1="285" x2="307.5" y1="13.52" y2="13.52" stroke="#FFFFFF" stroke-width="0.6"/>
<line x1="287.6" x2="287.6" y1="5.0" y2="61.0" stroke="#FFFFFF" stroke-width="0.6"/>
<line x1="287.6" x2="287.6" y1="61.1" y2="62.8" stroke="#111" stroke-width="1.0"/>
<line x1="291.93" x2="291.93" y1="5.0" y2="61.0" stroke="#FFFFFF" stroke-width="0.6"/>
<line x1="291.93" x2="291.93" y1="61.1" y2="62.8" stroke="#111" stroke-width="1.0"/>
<line x1="296.25" x2="296.25" y1="5.0" y2="61.0" stroke="#FFFFFF" stroke-width="0.6"/>
<line x1="296.25" x2="296.25" y1="61.1" y2="62.8" stroke="#111" stroke-width="1.0"/>
<line x1="300.58" x2="300.58" y1="5.0" y2="61.0" stroke="#FFFFFF" stroke-width="0.6"/>
<line x1="300.58" x2="300.58" y1="61.1" y2="62.8" stroke="#111" stroke-width="1.0"/>
<line x1="304.91" x2="304.91" y1="5.0" y2="61.0" stroke="#FFFFFF" stroke-width="0.6"/>
<line x1="304.91" x2="304.91" y1="61.1" y2="62.8" stroke="#111" stroke-width="1.0"/>
<text x="287.6" y="69.2" font-size="6" fill="#2E2E2E" text-anchor="middle">no</text>
<text x="291.93" y="69.2" font-size="6" fill="#2E2E2E" text-anchor="middle">sh</text>
<text x="296.25" y="69.2" font-size="6" fill="#2E2E2E" text-anchor="middle">ob</text>
<text x="300.58" y="69.2" font-size="6" fill="#2E2E2E" text-anchor="middle">t180</text>
<text x="304.91" y="69.2" font-size="6" fill="#2E2E2E" text-anchor="middle">180_dt</text>
<polyline points="287.6,58.45 291.93,55.46 296.25,55.46 300.58,52.46 304.91,58.45" fill="none" stroke="#F8766D" stroke-width="0.6" stroke-opacity="0.7"/>
<circle cx="287.6" cy="58.45" r="1.15" fill="#F8766D"/>
<circle cx="291.93" cy="55.46" r="1.15" fill="#F8766D"/>
<circle cx="296.25" cy="55.46" r="1.15" fill="#F8766D"/>
<circle cx="300.58" cy="52.46" r="1.15" fill="#F8766D"/>
<circle cx="304.91" cy="58.45" r="1.15" fill="#F8766D"/>
<polyline points="287.6,58.45 291.93,58.45 296.25,55.46 300.58,49.47 304.91,55.46" fill="none" stroke="#00BFC4" stroke-width="0.6" stroke-opacity="0.7"/>
<circle cx="287.6" cy="58.45" r="1.15" fill="#00BFC4"/>
<circle cx="291.93" cy="58.45" r="1.15" fill="#00BFC4"/>
<circle cx="296.25" cy="55.46" r="1.15" fill="#00BFC4"/>
<circle cx="300.58" cy="49.47" r="1.15" fill="#00BFC4"/>
<circle cx="304.91" cy="55.46" r="1.15" fill="#00BFC4"/>
<circle cx="287.6" cy="58.45" r="1.15" fill="#72918F"/>
<circle cx="296.25" cy="55.46" r="1.15" fill="#72918F"/>
<rect x="311.1" y="-6" width="22.5" height="11" fill="#E3E3E3"/>
<text x="322.35" y="1.9" font-size="6.6" fill="#222" stroke="#222" stroke-width="0.2" text-anchor="middle" textLength="20" lengthAdjust="spacingAndGlyphs">1001 B01</text>
<rect x="311.1" y="5.0" width="22.5" height="56.0" fill="#EBEBEB"/>
<line x1="311.1" x2="333.6" y1="50.96" y2="50.96" stroke="#F7F7F7" stroke-width="0.35"/>
<line x1="311.1" x2="333.6" y1="35.99" y2="35.99" stroke="#F7F7F7" stroke-width="0.35"/>
<line x1="311.1" x2="333.6" y1="21.01" y2="21.01" stroke="#F7F7F7" stroke-width="0.35"/>
<line x1="311.1" x2="333.6" y1="6.04" y2="6.04" stroke="#F7F7F7" stroke-width="0.35"/>
<line x1="311.1" x2="333.6" y1="58.45" y2="58.45" stroke="#FFFFFF" stroke-width="0.6"/>
<line x1="311.1" x2="333.6" y1="43.48" y2="43.48" stroke="#FFFFFF" stroke-width="0.6"/>
<line x1="311.1" x2="333.6" y1="28.5" y2="28.5" stroke="#FFFFFF" stroke-width="0.6"/>
<line x1="311.1" x2="333.6" y1="13.52" y2="13.52" stroke="#FFFFFF" stroke-width="0.6"/>
<line x1="313.7" x2="313.7" y1="5.0" y2="61.0" stroke="#FFFFFF" stroke-width="0.6"/>
<line x1="313.7" x2="313.7" y1="61.1" y2="62.8" stroke="#111" stroke-width="1.0"/>
<line x1="318.03" x2="318.03" y1="5.0" y2="61.0" stroke="#FFFFFF" stroke-width="0.6"/>
<line x1="318.03" x2="318.03" y1="61.1" y2="62.8" stroke="#111" stroke-width="1.0"/>
<line x1="322.35" x2="322.35" y1="5.0" y2="61.0" stroke="#FFFFFF" stroke-width="0.6"/>
<line x1="322.35" x2="322.35" y1="61.1" y2="62.8" stroke="#111" stroke-width="1.0"/>
<line x1="326.68" x2="326.68" y1="5.0" y2="61.0" stroke="#FFFFFF" stroke-width="0.6"/>
<line x1="326.68" x2="326.68" y1="61.1" y2="62.8" stroke="#111" stroke-width="1.0"/>
<line x1="331.01" x2="331.01" y1="5.0" y2="61.0" stroke="#FFFFFF" stroke-width="0.6"/>
<line x1="331.01" x2="331.01" y1="61.1" y2="62.8" stroke="#111" stroke-width="1.0"/>
<text x="313.7" y="69.2" font-size="6" fill="#2E2E2E" text-anchor="middle">no</text>
<text x="318.03" y="69.2" font-size="6" fill="#2E2E2E" text-anchor="middle">sh</text>
<text x="322.35" y="69.2" font-size="6" fill="#2E2E2E" text-anchor="middle">ob</text>
<text x="326.68" y="69.2" font-size="6" fill="#2E2E2E" text-anchor="middle">t180</text>
<text x="331.01" y="69.2" font-size="6" fill="#2E2E2E" text-anchor="middle">180_dt</text>
<polyline points="313.7,58.45 318.03,58.45 322.35,58.45 326.68,58.45 331.01,58.45" fill="none" stroke="#F8766D" stroke-width="0.6" stroke-opacity="0.7"/>
<circle cx="313.7" cy="58.45" r="1.15" fill="#F8766D"/>
<circle cx="318.03" cy="58.45" r="1.15" fill="#F8766D"/>
<circle cx="322.35" cy="58.45" r="1.15" fill="#F8766D"/>
<circle cx="326.68" cy="58.45" r="1.15" fill="#F8766D"/>
<circle cx="331.01" cy="58.45" r="1.15" fill="#F8766D"/>
<polyline points="313.7,58.45 318.03,58.45 322.35,55.46 326.68,58.45 331.01,58.45" fill="none" stroke="#00BFC4" stroke-width="0.6" stroke-opacity="0.7"/>
<circle cx="313.7" cy="58.45" r="1.15" fill="#00BFC4"/>
<circle cx="318.03" cy="58.45" r="1.15" fill="#00BFC4"/>
<circle cx="322.35" cy="55.46" r="1.15" fill="#00BFC4"/>
<circle cx="326.68" cy="58.45" r="1.15" fill="#00BFC4"/>
<circle cx="331.01" cy="58.45" r="1.15" fill="#00BFC4"/>
<line x1="313.7" y1="58.45" x2="318.03" y2="58.45" stroke="#8AA8A6" stroke-width="0.6"/>
<line x1="326.68" y1="58.45" x2="331.01" y2="58.45" stroke="#8AA8A6" stroke-width="0.6"/>
<circle cx="313.7" cy="58.45" r="1.15" fill="#72918F"/>
<circle cx="318.03" cy="58.45" r="1.15" fill="#72918F"/>
<circle cx="326.68" cy="58.45" r="1.15" fill="#72918F"/>
<circle cx="331.01" cy="58.45" r="1.15" fill="#72918F"/>
<rect x="337.2" y="-6" width="22.5" height="11" fill="#E3E3E3"/>
<text x="348.45" y="1.9" font-size="6.6" fill="#222" stroke="#222" stroke-width="0.2" text-anchor="middle" textLength="20" lengthAdjust="spacingAndGlyphs">1001 B01</text>
<rect x="337.2" y="5.0" width="22.5" height="56.0" fill="#EBEBEB"/>
<line x1="337.2" x2="359.7" y1="50.96" y2="50.96" stroke="#F7F7F7" stroke-width="0.35"/>
<line x1="337.2" x2="359.7" y1="35.99" y2="35.99" stroke="#F7F7F7" stroke-width="0.35"/>
<line x1="337.2" x2="359.7" y1="21.01" y2="21.01" stroke="#F7F7F7" stroke-width="0.35"/>
<line x1="337.2" x2="359.7" y1="6.04" y2="6.04" stroke="#F7F7F7" stroke-width="0.35"/>
<line x1="337.2" x2="359.7" y1="58.45" y2="58.45" stroke="#FFFFFF" stroke-width="0.6"/>
<line x1="337.2" x2="359.7" y1="43.48" y2="43.48" stroke="#FFFFFF" stroke-width="0.6"/>
<line x1="337.2" x2="359.7" y1="28.5" y2="28.5" stroke="#FFFFFF" stroke-width="0.6"/>
<line x1="337.2" x2="359.7" y1="13.52" y2="13.52" stroke="#FFFFFF" stroke-width="0.6"/>
<line x1="339.8" x2="339.8" y1="5.0" y2="61.0" stroke="#FFFFFF" stroke-width="0.6"/>
<line x1="339.8" x2="339.8" y1="61.1" y2="62.8" stroke="#111" stroke-width="1.0"/>
<line x1="344.13" x2="344.13" y1="5.0" y2="61.0" stroke="#FFFFFF" stroke-width="0.6"/>
<line x1="344.13" x2="344.13" y1="61.1" y2="62.8" stroke="#111" stroke-width="1.0"/>
<line x1="348.45" x2="348.45" y1="5.0" y2="61.0" stroke="#FFFFFF" stroke-width="0.6"/>
<line x1="348.45" x2="348.45" y1="61.1" y2="62.8" stroke="#111" stroke-width="1.0"/>
<line x1="352.78" x2="352.78" y1="5.0" y2="61.0" stroke="#FFFFFF" stroke-width="0.6"/>
<line x1="352.78" x2="352.78" y1="61.1" y2="62.8" stroke="#111" stroke-width="1.0"/>
<line x1="357.11" x2="357.11" y1="5.0" y2="61.0" stroke="#FFFFFF" stroke-width="0.6"/>
<line x1="357.11" x2="357.11" y1="61.1" y2="62.8" stroke="#111" stroke-width="1.0"/>
<text x="339.8" y="69.2" font-size="6" fill="#2E2E2E" text-anchor="middle">no</text>
<text x="344.13" y="69.2" font-size="6" fill="#2E2E2E" text-anchor="middle">sh</text>
<text x="348.45" y="69.2" font-size="6" fill="#2E2E2E" text-anchor="middle">ob</text>
<text x="352.78" y="69.2" font-size="6" fill="#2E2E2E" text-anchor="middle">t180</text>
<text x="357.11" y="69.2" font-size="6" fill="#2E2E2E" text-anchor="middle">180_dt</text>
<polyline points="339.8,58.45 344.13,55.46 348.45,40.48 352.78,46.47 357.11,52.46" fill="none" stroke="#F8766D" stroke-width="0.6" stroke-opacity="0.7"/>
<circle cx="339.8" cy="58.45" r="1.15" fill="#F8766D"/>
<circle cx="344.13" cy="55.46" r="1.15" fill="#F8766D"/>
<circle cx="348.45" cy="40.48" r="1.15" fill="#F8766D"/>
<circle cx="352.78" cy="46.47" r="1.15" fill="#F8766D"/>
<circle cx="357.11" cy="52.46" r="1.15" fill="#F8766D"/>
<polyline points="339.8,58.45 344.13,55.46 348.45,46.47 352.78,43.48 357.11,49.47" fill="none" stroke="#00BFC4" stroke-width="0.6" stroke-opacity="0.7"/>
<circle cx="339.8" cy="58.45" r="1.15" fill="#00BFC4"/>
<circle cx="344.13" cy="55.46" r="1.15" fill="#00BFC4"/>
<circle cx="348.45" cy="46.47" r="1.15" fill="#00BFC4"/>
<circle cx="352.78" cy="43.48" r="1.15" fill="#00BFC4"/>
<circle cx="357.11" cy="49.47" r="1.15" fill="#00BFC4"/>
<line x1="339.8" y1="58.45" x2="344.13" y2="55.46" stroke="#8AA8A6" stroke-width="0.6"/>
<circle cx="339.8" cy="58.45" r="1.15" fill="#72918F"/>
<circle cx="344.13" cy="55.46" r="1.15" fill="#72918F"/>
<rect x="363.3" y="-6" width="22.5" height="11" fill="#E3E3E3"/>
<text x="374.55" y="1.9" font-size="6.6" fill="#222" stroke="#222" stroke-width="0.2" text-anchor="middle" textLength="20" lengthAdjust="spacingAndGlyphs">1001 B01</text>
<rect x="363.3" y="5.0" width="22.5" height="56.0" fill="#EBEBEB"/>
<line x1="363.3" x2="385.8" y1="50.96" y2="50.96" stroke="#F7F7F7" stroke-width="0.35"/>
<line x1="363.3" x2="385.8" y1="35.99" y2="35.99" stroke="#F7F7F7" stroke-width="0.35"/>
<line x1="363.3" x2="385.8" y1="21.01" y2="21.01" stroke="#F7F7F7" stroke-width="0.35"/>
<line x1="363.3" x2="385.8" y1="6.04" y2="6.04" stroke="#F7F7F7" stroke-width="0.35"/>
<line x1="363.3" x2="385.8" y1="58.45" y2="58.45" stroke="#FFFFFF" stroke-width="0.6"/>
<line x1="363.3" x2="385.8" y1="43.48" y2="43.48" stroke="#FFFFFF" stroke-width="0.6"/>
<line x1="363.3" x2="385.8" y1="28.5" y2="28.5" stroke="#FFFFFF" stroke-width="0.6"/>
<line x1="363.3" x2="385.8" y1="13.52" y2="13.52" stroke="#FFFFFF" stroke-width="0.6"/>
<line x1="365.9" x2="365.9" y1="5.0" y2="61.0" stroke="#FFFFFF" stroke-width="0.6"/>
<line x1="365.9" x2="365.9" y1="61.1" y2="62.8" stroke="#111" stroke-width="1.0"/>
<line x1="370.23" x2="370.23" y1="5.0" y2="61.0" stroke="#FFFFFF" stroke-width="0.6"/>
<line x1="370.23" x2="370.23" y1="61.1" y2="62.8" stroke="#111" stroke-width="1.0"/>
<line x1="374.55" x2="374.55" y1="5.0" y2="61.0" stroke="#FFFFFF" stroke-width="0.6"/>
<line x1="374.55" x2="374.55" y1="61.1" y2="62.8" stroke="#111" stroke-width="1.0"/>
<line x1="378.88" x2="378.88" y1="5.0" y2="61.0" stroke="#FFFFFF" stroke-width="0.6"/>
<line x1="378.88" x2="378.88" y1="61.1" y2="62.8" stroke="#111" stroke-width="1.0"/>
<line x1="383.21" x2="383.21" y1="5.0" y2="61.0" stroke="#FFFFFF" stroke-width="0.6"/>
<line x1="383.21" x2="383.21" y1="61.1" y2="62.8" stroke="#111" stroke-width="1.0"/>
<text x="365.9" y="69.2" font-size="6" fill="#2E2E2E" text-anchor="middle">no</text>
<text x="370.23" y="69.2" font-size="6" fill="#2E2E2E" text-anchor="middle">sh</text>
<text x="374.55" y="69.2" font-size="6" fill="#2E2E2E" text-anchor="middle">ob</text>
<text x="378.88" y="69.2" font-size="6" fill="#2E2E2E" text-anchor="middle">t180</text>
<text x="383.21" y="69.2" font-size="6" fill="#2E2E2E" text-anchor="middle">180_dt</text>
<polyline points="365.9,58.45 370.23,58.45 374.55,58.45 378.88,58.45 383.21,58.45" fill="none" stroke="#F8766D" stroke-width="0.6" stroke-opacity="0.7"/>
<circle cx="365.9" cy="58.45" r="1.15" fill="#F8766D"/>
<circle cx="370.23" cy="58.45" r="1.15" fill="#F8766D"/>
<circle cx="374.55" cy="58.45" r="1.15" fill="#F8766D"/>
<circle cx="378.88" cy="58.45" r="1.15" fill="#F8766D"/>
<circle cx="383.21" cy="58.45" r="1.15" fill="#F8766D"/>
<polyline points="365.9,58.45 370.23,55.46 374.55,58.45 378.88,55.46 383.21,55.46" fill="none" stroke="#00BFC4" stroke-width="0.6" stroke-opacity="0.7"/>
<circle cx="365.9" cy="58.45" r="1.15" fill="#00BFC4"/>
<circle cx="370.23" cy="55.46" r="1.15" fill="#00BFC4"/>
<circle cx="374.55" cy="58.45" r="1.15" fill="#00BFC4"/>
<circle cx="378.88" cy="55.46" r="1.15" fill="#00BFC4"/>
<circle cx="383.21" cy="55.46" r="1.15" fill="#00BFC4"/>
<circle cx="365.9" cy="58.45" r="1.15" fill="#72918F"/>
<circle cx="374.55" cy="58.45" r="1.15" fill="#72918F"/>
<rect x="389.4" y="-6" width="22.5" height="11" fill="#E3E3E3"/>
<text x="400.65" y="1.9" font-size="6.6" fill="#222" stroke="#222" stroke-width="0.2" text-anchor="middle" textLength="20" lengthAdjust="spacingAndGlyphs">1001 B01</text>
<rect x="389.4" y="5.0" width="22.5" height="56.0" fill="#EBEBEB"/>
<line x1="389.4" x2="411.9" y1="50.96" y2="50.96" stroke="#F7F7F7" stroke-width="0.35"/>
<line x1="389.4" x2="411.9" y1="35.99" y2="35.99" stroke="#F7F7F7" stroke-width="0.35"/>
<line x1="389.4" x2="411.9" y1="21.01" y2="21.01" stroke="#F7F7F7" stroke-width="0.35"/>
<line x1="389.4" x2="411.9" y1="6.04" y2="6.04" stroke="#F7F7F7" stroke-width="0.35"/>
<line x1="389.4" x2="411.9" y1="58.45" y2="58.45" stroke="#FFFFFF" stroke-width="0.6"/>
<line x1="389.4" x2="411.9" y1="43.48" y2="43.48" stroke="#FFFFFF" stroke-width="0.6"/>
<line x1="389.4" x2="411.9" y1="28.5" y2="28.5" stroke="#FFFFFF" stroke-width="0.6"/>
<line x1="389.4" x2="411.9" y1="13.52" y2="13.52" stroke="#FFFFFF" stroke-width="0.6"/>
<line x1="392" x2="392" y1="5.0" y2="61.0" stroke="#FFFFFF" stroke-width="0.6"/>
<line x1="392" x2="392" y1="61.1" y2="62.8" stroke="#111" stroke-width="1.0"/>
<line x1="396.33" x2="396.33" y1="5.0" y2="61.0" stroke="#FFFFFF" stroke-width="0.6"/>
<line x1="396.33" x2="396.33" y1="61.1" y2="62.8" stroke="#111" stroke-width="1.0"/>
<line x1="400.65" x2="400.65" y1="5.0" y2="61.0" stroke="#FFFFFF" stroke-width="0.6"/>
<line x1="400.65" x2="400.65" y1="61.1" y2="62.8" stroke="#111" stroke-width="1.0"/>
<line x1="404.98" x2="404.98" y1="5.0" y2="61.0" stroke="#FFFFFF" stroke-width="0.6"/>
<line x1="404.98" x2="404.98" y1="61.1" y2="62.8" stroke="#111" stroke-width="1.0"/>
<line x1="409.31" x2="409.31" y1="5.0" y2="61.0" stroke="#FFFFFF" stroke-width="0.6"/>
<line x1="409.31" x2="409.31" y1="61.1" y2="62.8" stroke="#111" stroke-width="1.0"/>
<text x="392" y="69.2" font-size="6" fill="#2E2E2E" text-anchor="middle">no</text>
<text x="396.33" y="69.2" font-size="6" fill="#2E2E2E" text-anchor="middle">sh</text>
<text x="400.65" y="69.2" font-size="6" fill="#2E2E2E" text-anchor="middle">ob</text>
<text x="404.98" y="69.2" font-size="6" fill="#2E2E2E" text-anchor="middle">t180</text>
<text x="409.31" y="69.2" font-size="6" fill="#2E2E2E" text-anchor="middle">180_dt</text>
<polyline points="392,58.45 396.33,58.45 400.65,46.47 404.98,37.48 409.31,52.46" fill="none" stroke="#F8766D" stroke-width="0.6" stroke-opacity="0.7"/>
<circle cx="392" cy="58.45" r="1.15" fill="#F8766D"/>
<circle cx="396.33" cy="58.45" r="1.15" fill="#F8766D"/>
<circle cx="400.65" cy="46.47" r="1.15" fill="#F8766D"/>
<circle cx="404.98" cy="37.48" r="1.15" fill="#F8766D"/>
<circle cx="409.31" cy="52.46" r="1.15" fill="#F8766D"/>
<polyline points="392,55.46 396.33,58.45 400.65,34.49 404.98,28.5 409.31,49.47" fill="none" stroke="#00BFC4" stroke-width="0.6" stroke-opacity="0.7"/>
<circle cx="392" cy="55.46" r="1.15" fill="#00BFC4"/>
<circle cx="396.33" cy="58.45" r="1.15" fill="#00BFC4"/>
<circle cx="400.65" cy="34.49" r="1.15" fill="#00BFC4"/>
<circle cx="404.98" cy="28.5" r="1.15" fill="#00BFC4"/>
<circle cx="409.31" cy="49.47" r="1.15" fill="#00BFC4"/>
<circle cx="396.33" cy="58.45" r="1.15" fill="#72918F"/>
<rect x="415.5" y="-6" width="22.5" height="11" fill="#E3E3E3"/>
<text x="426.75" y="1.9" font-size="6.6" fill="#222" stroke="#222" stroke-width="0.2" text-anchor="middle" textLength="20" lengthAdjust="spacingAndGlyphs">1001 B01</text>
<rect x="415.5" y="5.0" width="22.5" height="56.0" fill="#EBEBEB"/>
<line x1="415.5" x2="438" y1="50.96" y2="50.96" stroke="#F7F7F7" stroke-width="0.35"/>
<line x1="415.5" x2="438" y1="35.99" y2="35.99" stroke="#F7F7F7" stroke-width="0.35"/>
<line x1="415.5" x2="438" y1="21.01" y2="21.01" stroke="#F7F7F7" stroke-width="0.35"/>
<line x1="415.5" x2="438" y1="6.04" y2="6.04" stroke="#F7F7F7" stroke-width="0.35"/>
<line x1="415.5" x2="438" y1="58.45" y2="58.45" stroke="#FFFFFF" stroke-width="0.6"/>
<line x1="415.5" x2="438" y1="43.48" y2="43.48" stroke="#FFFFFF" stroke-width="0.6"/>
<line x1="415.5" x2="438" y1="28.5" y2="28.5" stroke="#FFFFFF" stroke-width="0.6"/>
<line x1="415.5" x2="438" y1="13.52" y2="13.52" stroke="#FFFFFF" stroke-width="0.6"/>
<line x1="418.1" x2="418.1" y1="5.0" y2="61.0" stroke="#FFFFFF" stroke-width="0.6"/>
<line x1="418.1" x2="418.1" y1="61.1" y2="62.8" stroke="#111" stroke-width="1.0"/>
<line x1="422.43" x2="422.43" y1="5.0" y2="61.0" stroke="#FFFFFF" stroke-width="0.6"/>
<line x1="422.43" x2="422.43" y1="61.1" y2="62.8" stroke="#111" stroke-width="1.0"/>
<line x1="426.75" x2="426.75" y1="5.0" y2="61.0" stroke="#FFFFFF" stroke-width="0.6"/>
<line x1="426.75" x2="426.75" y1="61.1" y2="62.8" stroke="#111" stroke-width="1.0"/>
<line x1="431.08" x2="431.08" y1="5.0" y2="61.0" stroke="#FFFFFF" stroke-width="0.6"/>
<line x1="431.08" x2="431.08" y1="61.1" y2="62.8" stroke="#111" stroke-width="1.0"/>
<line x1="435.41" x2="435.41" y1="5.0" y2="61.0" stroke="#FFFFFF" stroke-width="0.6"/>
<line x1="435.41" x2="435.41" y1="61.1" y2="62.8" stroke="#111" stroke-width="1.0"/>
<text x="418.1" y="69.2" font-size="6" fill="#2E2E2E" text-anchor="middle">no</text>
<text x="422.43" y="69.2" font-size="6" fill="#2E2E2E" text-anchor="middle">sh</text>
<text x="426.75" y="69.2" font-size="6" fill="#2E2E2E" text-anchor="middle">ob</text>
<text x="431.08" y="69.2" font-size="6" fill="#2E2E2E" text-anchor="middle">t180</text>
<text x="435.41" y="69.2" font-size="6" fill="#2E2E2E" text-anchor="middle">180_dt</text>
<polyline points="418.1,31.5 422.43,58.45 426.75,46.47 431.08,40.48 435.41,55.46" fill="none" stroke="#F8766D" stroke-width="0.6" stroke-opacity="0.7"/>
<circle cx="418.1" cy="31.5" r="1.15" fill="#F8766D"/>
<circle cx="422.43" cy="58.45" r="1.15" fill="#F8766D"/>
<circle cx="426.75" cy="46.47" r="1.15" fill="#F8766D"/>
<circle cx="431.08" cy="40.48" r="1.15" fill="#F8766D"/>
<circle cx="435.41" cy="55.46" r="1.15" fill="#F8766D"/>
<polyline points="418.1,31.5 422.43,58.45 426.75,46.47 431.08,40.48 435.41,52.46" fill="none" stroke="#00BFC4" stroke-width="0.6" stroke-opacity="0.7"/>
<circle cx="418.1" cy="31.5" r="1.15" fill="#00BFC4"/>
<circle cx="422.43" cy="58.45" r="1.15" fill="#00BFC4"/>
<circle cx="426.75" cy="46.47" r="1.15" fill="#00BFC4"/>
<circle cx="431.08" cy="40.48" r="1.15" fill="#00BFC4"/>
<circle cx="435.41" cy="52.46" r="1.15" fill="#00BFC4"/>
<line x1="418.1" y1="31.5" x2="422.43" y2="58.45" stroke="#8AA8A6" stroke-width="0.6"/>
<line x1="422.43" y1="58.45" x2="426.75" y2="46.47" stroke="#8AA8A6" stroke-width="0.6"/>
<line x1="426.75" y1="46.47" x2="431.08" y2="40.48" stroke="#8AA8A6" stroke-width="0.6"/>
<circle cx="418.1" cy="31.5" r="1.15" fill="#72918F"/>
<circle cx="422.43" cy="58.45" r="1.15" fill="#72918F"/>
<circle cx="426.75" cy="46.47" r="1.15" fill="#72918F"/>
<circle cx="431.08" cy="40.48" r="1.15" fill="#72918F"/>
<line x1="22.3" x2="24" y1="58.45" y2="58.45" stroke="#333333" stroke-width="0.6"/>
<text x="21.3" y="60.5" font-size="5.8" fill="#4D4D4D" text-anchor="end">0</text>
<line x1="22.3" x2="24" y1="43.48" y2="43.48" stroke="#333333" stroke-width="0.6"/>
<text x="21.3" y="45.52" font-size="5.8" fill="#4D4D4D" text-anchor="end">5</text>
<line x1="22.3" x2="24" y1="28.5" y2="28.5" stroke="#333333" stroke-width="0.6"/>
<text x="21.3" y="30.55" font-size="5.8" fill="#4D4D4D" text-anchor="end">10</text>
<line x1="22.3" x2="24" y1="13.52" y2="13.52" stroke="#333333" stroke-width="0.6"/>
<text x="21.3" y="15.57" font-size="5.8" fill="#4D4D4D" text-anchor="end">15</text>
<text transform="translate(11.2,32.5) rotate(-90)" font-size="7.2" fill="#000" text-anchor="middle">Count of freezing</text>
<text x="231" y="79.2" font-size="7.2" fill="#000" text-anchor="middle">trigger</text>
<text x="449" y="3.6" font-size="7.2" fill="#000">run</text>
<rect x="449" y="8.3" width="12" height="23.5" fill="#F2F2F2"/>
<line x1="450" x2="460" y1="14.4" y2="14.4" stroke="#F8766D" stroke-width="0.7"/>
<circle cx="455" cy="14.4" r="1.4" fill="#F8766D"/>
<line x1="450" x2="460" y1="25.9" y2="25.9" stroke="#00BFC4" stroke-width="0.7"/>
<circle cx="455" cy="25.9" r="1.4" fill="#00BFC4"/>
<text x="464.4" y="16.9" font-size="6.5" fill="#111">RL</text>
<text x="464.4" y="28.4" font-size="6.5" fill="#111">VR</text>
<rect x="449" y="57.5" width="12" height="12" fill="#EBEBEB"/>
<text x="3.9" y="91.3" font-size="9.5" fill="#000">B</text>
<text x="27.5" y="103" font-size="9.3" fill="#000">Probabilities of freezing</text>
<line x1="25" x2="27.5" y1="218.2" y2="218.2" stroke="#333" stroke-width="0.8"/>
<text x="23.6" y="220.3" font-size="5" fill="#4D4D4D" text-anchor="end">0.00</text>
<line x1="25" x2="27.5" y1="192.4" y2="192.4" stroke="#333" stroke-width="0.8"/>
<text x="23.6" y="194.5" font-size="5" fill="#4D4D4D" text-anchor="end">0.25</text>
<line x1="25" x2="27.5" y1="166.6" y2="166.6" stroke="#333" stroke-width="0.8"/>
<text x="23.6" y="168.7" font-size="5" fill="#4D4D4D" text-anchor="end">0.50</text>
<line x1="25" x2="27.5" y1="140.8" y2="140.8" stroke="#333" stroke-width="0.8"/>
<text x="23.6" y="142.9" font-size="5" fill="#4D4D4D" text-anchor="end">0.75</text>
<line x1="25" x2="27.5" y1="115" y2="115" stroke="#333" stroke-width="0.8"/>
<text x="23.6" y="117.1" font-size="5" fill="#4D4D4D" text-anchor="end">1.00</text>
<text transform="translate(9.4,166.3) rotate(-90)" font-size="6.25" fill="#111" text-anchor="middle">Probability of Freezing</text>
<text x="40" y="232" font-size="5" fill="#555" text-anchor="middle">RL</text>
<text x="40" y="237.3" font-size="5" fill="#555" text-anchor="middle">no</text>
<text x="55.3" y="232" font-size="5" fill="#555" text-anchor="middle">VR</text>
<text x="55.3" y="237.3" font-size="5" fill="#555" text-anchor="middle">no</text>
<text x="78.05" y="232" font-size="5" fill="#555" text-anchor="middle">RL</text>
<text x="78.05" y="237.3" font-size="5" fill="#555" text-anchor="middle">sh</text>
<text x="93.35" y="232" font-size="5" fill="#555" text-anchor="middle">VR</text>
<text x="93.35" y="237.3" font-size="5" fill="#555" text-anchor="middle">sh</text>
<text x="116.1" y="232" font-size="5" fill="#555" text-anchor="middle">RL</text>
<text x="116.1" y="237.3" font-size="5" fill="#555" text-anchor="middle">ob</text>
<text x="131.4" y="232" font-size="5" fill="#555" text-anchor="middle">VR</text>
<text x="131.4" y="237.3" font-size="5" fill="#555" text-anchor="middle">ob</text>
<text x="154.15" y="232" font-size="5" fill="#555" text-anchor="middle">RL</text>
<text x="154.15" y="237.3" font-size="5" fill="#555" text-anchor="middle">t180</text>
<text x="169.45" y="232" font-size="5" fill="#555" text-anchor="middle">VR</text>
<text x="169.45" y="237.3" font-size="5" fill="#555" text-anchor="middle">t180</text>
<text x="192.2" y="232" font-size="5" fill="#555" text-anchor="middle">RL</text>
<text x="192.2" y="237.3" font-size="5" fill="#555" text-anchor="middle">180_dt</text>
<text x="207.5" y="232" font-size="5" fill="#555" text-anchor="middle">VR</text>
<text x="207.5" y="237.3" font-size="5" fill="#555" text-anchor="middle">180_dt</text>
<line x1="40" y1="153.7" x2="55.3" y2="140.8" stroke="#8C8C8C" stroke-width="0.5"/>
<line x1="40" y1="160.15" x2="55.3" y2="166.6" stroke="#8C8C8C" stroke-width="0.5"/>
<line x1="78.05" y1="146.99" x2="93.35" y2="158.34" stroke="#8C8C8C" stroke-width="0.5"/>
<line x1="78.05" y1="214.07" x2="93.35" y2="209.94" stroke="#8C8C8C" stroke-width="0.45"/>
<line x1="78.05" y1="214.07" x2="93.35" y2="213.04" stroke="#8C8C8C" stroke-width="0.45"/>
<line x1="116.1" y1="115" x2="131.4" y2="115" stroke="#BDBDBD" stroke-width="1.0"/>
<line x1="116.1" y1="140.8" x2="131.4" y2="115" stroke="#8C8C8C" stroke-width="0.5"/>
<line x1="116.1" y1="140.8" x2="131.4" y2="166.6" stroke="#8C8C8C" stroke-width="0.5"/>
<line x1="116.1" y1="166.6" x2="131.4" y2="127.9" stroke="#8C8C8C" stroke-width="0.5"/>
<line x1="116.1" y1="205.3" x2="131.4" y2="205.3" stroke="#BDBDBD" stroke-width="0.5"/>
<line x1="116.1" y1="218.2" x2="131.4" y2="218.2" stroke="#111111" stroke-width="0.9"/>
<line x1="154.15" y1="115" x2="169.45" y2="115" stroke="#BDBDBD" stroke-width="1.0"/>
<line x1="154.15" y1="158.34" x2="169.45" y2="132.54" stroke="#8C8C8C" stroke-width="0.45"/>
<line x1="154.15" y1="166.6" x2="169.45" y2="132.54" stroke="#8C8C8C" stroke-width="0.45"/>
<line x1="154.15" y1="184.14" x2="169.45" y2="132.54" stroke="#8C8C8C" stroke-width="0.45"/>
<line x1="154.15" y1="200.97" x2="169.45" y2="132.54" stroke="#8C8C8C" stroke-width="0.45"/>
<line x1="154.15" y1="200.97" x2="169.45" y2="174.86" stroke="#BDBDBD" stroke-width="0.45"/>
<line x1="154.15" y1="218.2" x2="169.45" y2="206.85" stroke="#9DBF9D" stroke-width="0.45"/>
<line x1="154.15" y1="218.2" x2="169.45" y2="218.2" stroke="#111111" stroke-width="0.9"/>
<line x1="192.2" y1="115" x2="207.5" y2="115" stroke="#BDBDBD" stroke-width="1.0"/>
<line x1="192.2" y1="166.6" x2="207.5" y2="115" stroke="#595959" stroke-width="0.5"/>
<line x1="192.2" y1="166.6" x2="207.5" y2="140.8" stroke="#595959" stroke-width="0.5"/>
<line x1="192.2" y1="192.4" x2="207.5" y2="192.4" stroke="#8C8C8C" stroke-width="0.5"/>
<line x1="192.2" y1="218.2" x2="207.5" y2="183.83" stroke="#BDBDBD" stroke-width="0.45"/>
<line x1="192.2" y1="218.2" x2="207.5" y2="218.2" stroke="#111111" stroke-width="0.9"/>
<circle cx="40" cy="153.7" r="1.55" fill="#8C8C8C"/>
<circle cx="40" cy="160.15" r="1.55" fill="#8C8C8C"/>
<circle cx="55.3" cy="140.8" r="1.55" fill="#8C8C8C"/>
<circle cx="55.3" cy="166.6" r="1.55" fill="#8C8C8C"/>
<circle cx="55.3" cy="215.1" r="1.55" fill="#BDBDBD"/>
<circle cx="78.05" cy="146.99" r="1.55" fill="#8C8C8C"/>
<circle cx="78.05" cy="214.07" r="1.55" fill="#595959"/>
<circle cx="93.35" cy="158.34" r="1.55" fill="#8C8C8C"/>
<circle cx="93.35" cy="209.94" r="1.55" fill="#8C8C8C"/>
<circle cx="93.35" cy="213.04" r="1.55" fill="#8C8C8C"/>
<circle cx="116.1" cy="115" r="1.55" fill="#595959"/>
<circle cx="116.1" cy="140.8" r="1.55" fill="#595959"/>
<circle cx="116.1" cy="166.6" r="1.55" fill="#8C8C8C"/>
<circle cx="116.1" cy="205.3" r="1.55" fill="#8C8C8C"/>
<circle cx="116.1" cy="218.2" r="1.55" fill="#111111"/>
<circle cx="131.4" cy="115" r="1.55" fill="#595959"/>
<circle cx="131.4" cy="127.9" r="1.55" fill="#8C8C8C"/>
<circle cx="131.4" cy="166.6" r="1.55" fill="#8C8C8C"/>
<circle cx="131.4" cy="205.3" r="1.55" fill="#8C8C8C"/>
<circle cx="131.4" cy="218.2" r="1.55" fill="#111111"/>
<circle cx="154.15" cy="115" r="1.55" fill="#595959"/>
<circle cx="154.15" cy="158.34" r="1.55" fill="#8C8C8C"/>
<circle cx="154.15" cy="166.6" r="1.55" fill="#8C8C8C"/>
<circle cx="154.15" cy="184.14" r="1.55" fill="#8C8C8C"/>
<circle cx="154.15" cy="200.97" r="1.55" fill="#595959"/>
<circle cx="154.15" cy="218.2" r="1.55" fill="#111111"/>
<circle cx="169.45" cy="115" r="1.55" fill="#595959"/>
<circle cx="169.45" cy="123.26" r="1.55" fill="#8C8C8C"/>
<circle cx="169.45" cy="132.54" r="1.55" fill="#595959"/>
<circle cx="169.45" cy="158.03" r="1.55" fill="#8C8C8C"/>
<circle cx="169.45" cy="174.86" r="1.55" fill="#8C8C8C"/>
<circle cx="169.45" cy="206.85" r="1.55" fill="#8C8C8C"/>
<circle cx="169.45" cy="218.2" r="1.55" fill="#111111"/>
<circle cx="192.2" cy="115" r="1.55" fill="#8C8C8C"/>
<circle cx="192.2" cy="166.6" r="1.55" fill="#111111"/>
<circle cx="192.2" cy="192.4" r="1.55" fill="#8C8C8C"/>
<circle cx="192.2" cy="218.2" r="1.55" fill="#111111"/>
<circle cx="207.5" cy="115" r="1.55" fill="#222"/>
<circle cx="207.5" cy="140.8" r="1.55" fill="#333"/>
<circle cx="207.5" cy="183.83" r="1.55" fill="#8C8C8C"/>
<circle cx="207.5" cy="192.4" r="1.55" fill="#595959"/>
<circle cx="207.5" cy="218.2" r="1.55" fill="#111111"/>
<line x1="40" x2="40" y1="218.2" y2="216.65" stroke="#E41A1C" stroke-width="0.9"/>
<line x1="36.2" x2="43.8" y1="218.2" y2="218.2" stroke="#E41A1C" stroke-width="0.9"/>
<line x1="36.2" x2="43.8" y1="216.65" y2="216.65" stroke="#E41A1C" stroke-width="0.9"/>
<line x1="55.3" x2="55.3" y1="218.2" y2="216.65" stroke="#E41A1C" stroke-width="0.9"/>
<line x1="51.5" x2="59.1" y1="218.2" y2="218.2" stroke="#E41A1C" stroke-width="0.9"/>
<line x1="51.5" x2="59.1" y1="216.65" y2="216.65" stroke="#E41A1C" stroke-width="0.9"/>
<line x1="40" y1="218.2" x2="55.3" y2="218.2" stroke="#E41A1C" stroke-width="1"/>
<circle cx="40" cy="218.2" r="2" fill="#F00"/>
<circle cx="55.3" cy="218.2" r="2" fill="#F00"/>
<line x1="78.05" x2="78.05" y1="218.2" y2="216.65" stroke="#E41A1C" stroke-width="0.9"/>
<line x1="74.25" x2="81.85" y1="218.2" y2="218.2" stroke="#E41A1C" stroke-width="0.9"/>
<line x1="74.25" x2="81.85" y1="216.65" y2="216.65" stroke="#E41A1C" stroke-width="0.9"/>
<line x1="93.35" x2="93.35" y1="218.2" y2="216.65" stroke="#E41A1C" stroke-width="0.9"/>
<line x1="89.55" x2="97.15" y1="218.2" y2="218.2" stroke="#E41A1C" stroke-width="0.9"/>
<line x1="89.55" x2="97.15" y1="216.65" y2="216.65" stroke="#E41A1C" stroke-width="0.9"/>
<line x1="78.05" y1="218.2" x2="93.35" y2="218.2" stroke="#E41A1C" stroke-width="1"/>
<circle cx="78.05" cy="218.2" r="2" fill="#F00"/>
<circle cx="93.35" cy="218.2" r="2" fill="#F00"/>
<line x1="116.1" x2="116.1" y1="217.17" y2="179.19" stroke="#E41A1C" stroke-width="0.9"/>
<line x1="112.3" x2="119.9" y1="217.17" y2="217.17" stroke="#E41A1C" stroke-width="0.9"/>
<line x1="112.3" x2="119.9" y1="179.19" y2="179.19" stroke="#E41A1C" stroke-width="0.9"/>
<line x1="131.4" x2="131.4" y1="217.17" y2="170.73" stroke="#E41A1C" stroke-width="0.9"/>
<line x1="127.6" x2="135.2" y1="217.17" y2="217.17" stroke="#E41A1C" stroke-width="0.9"/>
<line x1="127.6" x2="135.2" y1="170.73" y2="170.73" stroke="#E41A1C" stroke-width="0.9"/>
<line x1="116.1" y1="209.22" x2="131.4" y2="206.33" stroke="#E41A1C" stroke-width="1"/>
<circle cx="116.1" cy="209.22" r="2" fill="#F00"/>
<circle cx="131.4" cy="206.33" r="2" fill="#F00"/>
<line x1="154.15" x2="154.15" y1="217.17" y2="181.05" stroke="#E41A1C" stroke-width="0.9"/>
<line x1="150.35" x2="157.95" y1="217.17" y2="217.17" stroke="#E41A1C" stroke-width="0.9"/>
<line x1="150.35" x2="157.95" y1="181.05" y2="181.05" stroke="#E41A1C" stroke-width="0.9"/>
<line x1="169.45" x2="169.45" y1="213.04" y2="148.02" stroke="#E41A1C" stroke-width="0.9"/>
<line x1="165.65" x2="173.25" y1="213.04" y2="213.04" stroke="#E41A1C" stroke-width="0.9"/>
<line x1="165.65" x2="173.25" y1="148.02" y2="148.02" stroke="#E41A1C" stroke-width="0.9"/>
<line x1="154.15" y1="209.94" x2="169.45" y2="192.92" stroke="#E41A1C" stroke-width="1"/>
<circle cx="154.15" cy="209.94" r="2" fill="#F00"/>
<circle cx="169.45" cy="192.92" r="2" fill="#F00"/>
<line x1="192.2" x2="192.2" y1="216.65" y2="170.73" stroke="#E41A1C" stroke-width="0.9"/>
<line x1="188.4" x2="196" y1="216.65" y2="216.65" stroke="#E41A1C" stroke-width="0.9"/>
<line x1="188.4" x2="196" y1="170.73" y2="170.73" stroke="#E41A1C" stroke-width="0.9"/>
<line x1="207.5" x2="207.5" y1="213.04" y2="140.28" stroke="#E41A1C" stroke-width="0.9"/>
<line x1="203.7" x2="211.3" y1="213.04" y2="213.04" stroke="#E41A1C" stroke-width="0.9"/>
<line x1="203.7" x2="211.3" y1="140.28" y2="140.28" stroke="#E41A1C" stroke-width="0.9"/>
<line x1="192.2" y1="207.26" x2="207.5" y2="188.58" stroke="#E41A1C" stroke-width="1"/>
<circle cx="192.2" cy="207.26" r="2" fill="#F00"/>
<circle cx="207.5" cy="188.58" r="2" fill="#F00"/>
<line x1="27.5" x2="27.5" y1="110" y2="223.9" stroke="#1A1A1A" stroke-width="1"/>
<line x1="27" x2="220" y1="223.4" y2="223.4" stroke="#1A1A1A" stroke-width="1"/>
<text x="28.8" y="252.7" font-size="9.3" fill="#000">Differences of risk of freezing, VR-RL, with 95%</text>
<line x1="26" x2="28.3" y1="316" y2="316" stroke="#333" stroke-width="0.5"/>
<text x="24.3" y="317.8" font-size="5" fill="#4D4D4D" text-anchor="end">0.0</text>
<line x1="26" x2="28.3" y1="304.4" y2="304.4" stroke="#333" stroke-width="0.5"/>
<text x="24.3" y="306.2" font-size="5" fill="#4D4D4D" text-anchor="end">0.1</text>
<line x1="26" x2="28.3" y1="292.8" y2="292.8" stroke="#333" stroke-width="0.5"/>
<text x="24.3" y="294.6" font-size="5" fill="#4D4D4D" text-anchor="end">0.2</text>
<line x1="26" x2="28.3" y1="281.2" y2="281.2" stroke="#333" stroke-width="0.5"/>
<text x="24.3" y="283" font-size="5" fill="#4D4D4D" text-anchor="end">0.3</text>
<line x1="26" x2="28.3" y1="269.6" y2="269.6" stroke="#333" stroke-width="0.5"/>
<text x="24.3" y="271.4" font-size="5" fill="#4D4D4D" text-anchor="end">0.4</text>
<line x1="28.3" x2="28.3" y1="261" y2="320" stroke="#1A1A1A" stroke-width="1"/>
<text transform="translate(12.2,294.7) rotate(-90)" font-size="6" fill="#000" text-anchor="middle">Risk difference</text>
<line x1="29.5" x2="223" y1="316.4" y2="316.4" stroke="#1A1A1A" stroke-width="1.0" stroke-dasharray="2.8,2.8"/>
<line x1="51.2" x2="51.2" y1="316.58" y2="315.42" stroke="#E41A1C" stroke-width="1"/>
<line x1="47.5" x2="54.9" y1="315.42" y2="315.42" stroke="#E41A1C" stroke-width="1"/>
<ellipse cx="51.2" cy="316" rx="2.8" ry="1.3" fill="#E41A1C"/>
<circle cx="51.2" cy="316.4" r="1.6" fill="#D40F12"/>
<line x1="88.45" x2="88.45" y1="316.58" y2="315.42" stroke="#E41A1C" stroke-width="1"/>
<line x1="84.75" x2="92.15" y1="315.42" y2="315.42" stroke="#E41A1C" stroke-width="1"/>
<ellipse cx="88.45" cy="316" rx="2.8" ry="1.3" fill="#E41A1C"/>
<circle cx="88.45" cy="316.4" r="1.6" fill="#D40F12"/>
<line x1="125.7" x2="125.7" y1="327.6" y2="302.89" stroke="#E41A1C" stroke-width="1"/>
<line x1="122" x2="129.4" y1="302.89" y2="302.89" stroke="#E41A1C" stroke-width="1"/>
<circle cx="125.7" cy="312.92" r="1.6" fill="#D40F12"/>
<line x1="162.95" x2="162.95" y1="327.6" y2="269.6" stroke="#E41A1C" stroke-width="1"/>
<line x1="159.25" x2="166.65" y1="269.6" y2="269.6" stroke="#E41A1C" stroke-width="1"/>
<circle cx="162.95" cy="296.68" r="1.6" fill="#D40F12"/>
<line x1="200.2" x2="200.2" y1="327.6" y2="262.99" stroke="#E41A1C" stroke-width="1"/>
<line x1="196.5" x2="203.9" y1="262.99" y2="262.99" stroke="#E41A1C" stroke-width="1"/>
<circle cx="200.2" cy="295.06" r="1.6" fill="#D40F12"/>
<line x1="235.2" x2="235.2" y1="86" y2="320" stroke="#3A3A3A" stroke-width="1.1"/>
<text x="249.4" y="93" font-size="9.2" fill="#000">C</text>
<text x="268" y="103" font-size="9.3" fill="#000">Freeze Duration</text>
<line x1="265" x2="267.2" y1="218.6" y2="218.6" stroke="#333" stroke-width="0.5"/>
<text x="263.6" y="220.4" font-size="5" fill="#4D4D4D" text-anchor="end">0</text>
<line x1="265" x2="267.2" y1="185.6" y2="185.6" stroke="#333" stroke-width="0.5"/>
<text x="263.6" y="187.4" font-size="5" fill="#4D4D4D" text-anchor="end">20</text>
<line x1="265" x2="267.2" y1="152.6" y2="152.6" stroke="#333" stroke-width="0.5"/>
<text x="263.6" y="154.4" font-size="5" fill="#4D4D4D" text-anchor="end">40</text>
<line x1="265" x2="267.2" y1="119.6" y2="119.6" stroke="#333" stroke-width="0.5"/>
<text x="263.6" y="121.4" font-size="5" fill="#4D4D4D" text-anchor="end">60</text>
<text transform="translate(254,166.5) rotate(-90)" font-size="6" fill="#000" text-anchor="middle">Duration of freezing</text>
<text x="280" y="232" font-size="5.1" fill="#4A4A4A" text-anchor="middle">RL</text>
<text x="280" y="236.8" font-size="5.1" fill="#4A4A4A" text-anchor="middle">no</text>
<text x="296" y="232" font-size="5.1" fill="#4A4A4A" text-anchor="middle">VR</text>
<text x="296" y="236.8" font-size="5.1" fill="#4A4A4A" text-anchor="middle">no</text>
<text x="318.9" y="232" font-size="5.1" fill="#4A4A4A" text-anchor="middle">RL</text>
<text x="318.9" y="236.8" font-size="5.1" fill="#4A4A4A" text-anchor="middle">sh</text>
<text x="334.9" y="232" font-size="5.1" fill="#4A4A4A" text-anchor="middle">VR</text>
<text x="334.9" y="236.8" font-size="5.1" fill="#4A4A4A" text-anchor="middle">sh</text>
<text x="357.8" y="232" font-size="5.1" fill="#4A4A4A" text-anchor="middle">RL</text>
<text x="357.8" y="236.8" font-size="5.1" fill="#4A4A4A" text-anchor="middle">ob</text>
<text x="373.8" y="232" font-size="5.1" fill="#4A4A4A" text-anchor="middle">VR</text>
<text x="373.8" y="236.8" font-size="5.1" fill="#4A4A4A" text-anchor="middle">ob</text>
<text x="396.7" y="232" font-size="5.1" fill="#4A4A4A" text-anchor="middle">RL</text>
<text x="396.7" y="236.8" font-size="5.1" fill="#4A4A4A" text-anchor="middle">t180</text>
<text x="412.7" y="232" font-size="5.1" fill="#4A4A4A" text-anchor="middle">VR</text>
<text x="412.7" y="236.8" font-size="5.1" fill="#4A4A4A" text-anchor="middle">t180</text>
<text x="435.6" y="232" font-size="5.1" fill="#4A4A4A" text-anchor="middle">RL</text>
<text x="435.6" y="236.8" font-size="5.1" fill="#4A4A4A" text-anchor="middle">180_dt</text>
<text x="451.6" y="232" font-size="5.1" fill="#4A4A4A" text-anchor="middle">VR</text>
<text x="451.6" y="236.8" font-size="5.1" fill="#4A4A4A" text-anchor="middle">180_dt</text>
<text x="365.7" y="245.8" font-size="6.1" fill="#000" stroke="#000" stroke-width="0.18" text-anchor="middle">trigger</text>
<text x="365.7" y="252.5" font-size="6.1" fill="#000" stroke="#000" stroke-width="0.18" text-anchor="middle">environment</text>
<text x="467.8" y="252.9" font-size="10.7" font-weight="bold" fill="#222" textLength="4.4" lengthAdjust="spacingAndGlyphs">F</text>
<line x1="280" y1="188.9" x2="296" y2="177.35" stroke="#8C8C8C" stroke-width="0.55"/>
<line x1="280" y1="214.47" x2="296" y2="213.65" stroke="#595959" stroke-width="0.5"/>
<line x1="280" y1="216.95" x2="296" y2="215.3" stroke="#595959" stroke-width="0.5"/>
<line x1="318.9" y1="202.1" x2="334.9" y2="185.6" stroke="#8C8C8C" stroke-width="0.55"/>
<line x1="318.9" y1="216.95" x2="334.9" y2="215.3" stroke="#595959" stroke-width="0.6"/>
<line x1="318.9" y1="215.3" x2="334.9" y2="213.65" stroke="#595959" stroke-width="0.5"/>
<line x1="357.8" y1="152.6" x2="373.8" y2="115.47" stroke="#8C8C8C" stroke-width="0.55"/>
<line x1="357.8" y1="212" x2="373.8" y2="212" stroke="#595959" stroke-width="0.7"/>
<line x1="357.8" y1="214.47" x2="373.8" y2="214.47" stroke="#595959" stroke-width="0.7"/>
<line x1="357.8" y1="215.3" x2="373.8" y2="212" stroke="#111111" stroke-width="0.6"/>
<line x1="396.7" y1="185.6" x2="412.7" y2="151.77" stroke="#8C8C8C" stroke-width="0.55"/>
<line x1="396.7" y1="216.12" x2="412.7" y2="213.65" stroke="#111111" stroke-width="0.7"/>
<line x1="396.7" y1="214.47" x2="412.7" y2="212" stroke="#111111" stroke-width="0.7"/>
<line x1="396.7" y1="216.95" x2="412.7" y2="215.3" stroke="#111111" stroke-width="0.7"/>
<line x1="435.6" y1="167.45" x2="451.6" y2="116.3" stroke="#8C8C8C" stroke-width="0.55"/>
<line x1="435.6" y1="217.28" x2="451.6" y2="214.47" stroke="#111111" stroke-width="0.6"/>
<line x1="435.6" y1="214.47" x2="451.6" y2="217.28" stroke="#111111" stroke-width="0.6"/>
<line x1="435.6" y1="216.12" x2="451.6" y2="216.12" stroke="#111111" stroke-width="0.6"/>
<circle cx="280" cy="188.9" r="1.55" fill="#8C8C8C"/>
<circle cx="280" cy="214.47" r="1.55" fill="#595959"/>
<circle cx="280" cy="216.95" r="1.55" fill="#595959"/>
<circle cx="296" cy="177.35" r="1.55" fill="#8C8C8C"/>
<circle cx="296" cy="213.65" r="1.55" fill="#595959"/>
<circle cx="296" cy="215.3" r="1.55" fill="#595959"/>
<circle cx="318.9" cy="202.1" r="1.55" fill="#8C8C8C"/>
<circle cx="318.9" cy="216.95" r="1.55" fill="#595959"/>
<circle cx="318.9" cy="215.3" r="1.55" fill="#595959"/>
<circle cx="334.9" cy="185.6" r="1.55" fill="#8C8C8C"/>
<circle cx="334.9" cy="215.3" r="1.55" fill="#595959"/>
<circle cx="334.9" cy="213.65" r="1.55" fill="#595959"/>
<circle cx="357.8" cy="152.6" r="1.55" fill="#8C8C8C"/>
<circle cx="357.8" cy="212" r="1.55" fill="#595959"/>
<circle cx="357.8" cy="214.47" r="1.55" fill="#595959"/>
<circle cx="357.8" cy="215.3" r="1.55" fill="#111111"/>
<circle cx="373.8" cy="115.47" r="1.55" fill="#8C8C8C"/>
<circle cx="373.8" cy="212" r="1.55" fill="#595959"/>
<circle cx="373.8" cy="214.47" r="1.55" fill="#595959"/>
<circle cx="396.7" cy="185.6" r="1.55" fill="#8C8C8C"/>
<circle cx="396.7" cy="216.12" r="1.55" fill="#111111"/>
<circle cx="396.7" cy="214.47" r="1.55" fill="#111111"/>
<circle cx="396.7" cy="216.95" r="1.55" fill="#111111"/>
<circle cx="412.7" cy="151.77" r="1.55" fill="#8C8C8C"/>
<circle cx="412.7" cy="213.65" r="1.55" fill="#111111"/>
<circle cx="412.7" cy="212" r="1.55" fill="#111111"/>
<circle cx="412.7" cy="215.3" r="1.55" fill="#111111"/>
<circle cx="435.6" cy="167.45" r="1.55" fill="#8C8C8C"/>
<circle cx="435.6" cy="217.28" r="1.55" fill="#111111"/>
<circle cx="435.6" cy="214.47" r="1.55" fill="#111111"/>
<circle cx="435.6" cy="216.12" r="1.55" fill="#111111"/>
<circle cx="451.6" cy="116.3" r="1.55" fill="#8C8C8C"/>
<circle cx="451.6" cy="214.47" r="1.55" fill="#111111"/>
<circle cx="451.6" cy="217.28" r="1.55" fill="#111111"/>
<circle cx="451.6" cy="216.12" r="1.55" fill="#111111"/>
<line x1="280" x2="280" y1="216.95" y2="212.5" stroke="#E41A1C" stroke-width="0.9"/>
<line x1="276" x2="284" y1="216.95" y2="216.95" stroke="#E41A1C" stroke-width="0.9"/>
<line x1="276" x2="284" y1="212.5" y2="212.5" stroke="#E41A1C" stroke-width="0.9"/>
<line x1="296" x2="296" y1="216.29" y2="211.34" stroke="#E41A1C" stroke-width="0.9"/>
<line x1="292" x2="300" y1="216.29" y2="216.29" stroke="#E41A1C" stroke-width="0.9"/>
<line x1="292" x2="300" y1="211.34" y2="211.34" stroke="#E41A1C" stroke-width="0.9"/>
<line x1="280" y1="214.47" x2="296" y2="213.65" stroke="#E41A1C" stroke-width="1"/>
<circle cx="280" cy="214.47" r="1.8" fill="#F00"/>
<circle cx="296" cy="213.65" r="1.8" fill="#F00"/>
<line x1="318.9" x2="318.9" y1="216.29" y2="211.34" stroke="#E41A1C" stroke-width="0.9"/>
<line x1="314.9" x2="322.9" y1="216.29" y2="216.29" stroke="#E41A1C" stroke-width="0.9"/>
<line x1="314.9" x2="322.9" y1="211.34" y2="211.34" stroke="#E41A1C" stroke-width="0.9"/>
<line x1="334.9" x2="334.9" y1="214.64" y2="207.05" stroke="#E41A1C" stroke-width="0.9"/>
<line x1="330.9" x2="338.9" y1="214.64" y2="214.64" stroke="#E41A1C" stroke-width="0.9"/>
<line x1="330.9" x2="338.9" y1="207.05" y2="207.05" stroke="#E41A1C" stroke-width="0.9"/>
<line x1="318.9" y1="213.65" x2="334.9" y2="211.17" stroke="#E41A1C" stroke-width="1"/>
<circle cx="318.9" cy="213.65" r="1.8" fill="#F00"/>
<circle cx="334.9" cy="211.17" r="1.8" fill="#F00"/>
<line x1="357.8" x2="357.8" y1="212" y2="201.28" stroke="#E41A1C" stroke-width="0.9"/>
<line x1="353.8" x2="361.8" y1="212" y2="212" stroke="#E41A1C" stroke-width="0.9"/>
<line x1="353.8" x2="361.8" y1="201.28" y2="201.28" stroke="#E41A1C" stroke-width="0.9"/>
<line x1="373.8" x2="373.8" y1="207.05" y2="193.03" stroke="#E41A1C" stroke-width="0.9"/>
<line x1="369.8" x2="377.8" y1="207.05" y2="207.05" stroke="#E41A1C" stroke-width="0.9"/>
<line x1="369.8" x2="377.8" y1="193.03" y2="193.03" stroke="#E41A1C" stroke-width="0.9"/>
<line x1="357.8" y1="207.05" x2="373.8" y2="200.45" stroke="#E41A1C" stroke-width="1"/>
<circle cx="357.8" cy="207.05" r="1.8" fill="#F00"/>
<circle cx="373.8" cy="200.45" r="1.8" fill="#F00"/>
<line x1="396.7" x2="396.7" y1="213.32" y2="205.89" stroke="#E41A1C" stroke-width="0.9"/>
<line x1="392.7" x2="400.7" y1="213.32" y2="213.32" stroke="#E41A1C" stroke-width="0.9"/>
<line x1="392.7" x2="400.7" y1="205.89" y2="205.89" stroke="#E41A1C" stroke-width="0.9"/>
<line x1="412.7" x2="412.7" y1="210.84" y2="202.1" stroke="#E41A1C" stroke-width="0.9"/>
<line x1="408.7" x2="416.7" y1="210.84" y2="210.84" stroke="#E41A1C" stroke-width="0.9"/>
<line x1="408.7" x2="416.7" y1="202.1" y2="202.1" stroke="#E41A1C" stroke-width="0.9"/>
<line x1="396.7" y1="210.35" x2="412.7" y2="207.05" stroke="#E41A1C" stroke-width="1"/>
<circle cx="396.7" cy="210.35" r="1.8" fill="#F00"/>
<circle cx="412.7" cy="207.05" r="1.8" fill="#F00"/>
<line x1="435.6" x2="435.6" y1="212.5" y2="202.1" stroke="#E41A1C" stroke-width="0.9"/>
<line x1="431.6" x2="439.6" y1="212.5" y2="212.5" stroke="#E41A1C" stroke-width="0.9"/>
<line x1="431.6" x2="439.6" y1="202.1" y2="202.1" stroke="#E41A1C" stroke-width="0.9"/>
<line x1="451.6" x2="451.6" y1="212.5" y2="202.1" stroke="#E41A1C" stroke-width="0.9"/>
<line x1="447.6" x2="455.6" y1="212.5" y2="212.5" stroke="#E41A1C" stroke-width="0.9"/>
<line x1="447.6" x2="455.6" y1="202.1" y2="202.1" stroke="#E41A1C" stroke-width="0.9"/>
<line x1="435.6" y1="207.05" x2="451.6" y2="207.05" stroke="#E41A1C" stroke-width="1"/>
<circle cx="435.6" cy="207.05" r="1.8" fill="#F00"/>
<circle cx="451.6" cy="207.05" r="1.8" fill="#F00"/>
<line x1="267.2" x2="267.2" y1="110" y2="223.7" stroke="#1A1A1A" stroke-width="1"/>
<line x1="266.7" x2="464" y1="223.1" y2="223.1" stroke="#1A1A1A" stroke-width="1"/>
<line x1="271.3" x2="273.5" y1="307.4" y2="307.4" stroke="#333" stroke-width="0.5"/>
<text x="269.8" y="309.2" font-size="5" fill="#4D4D4D" text-anchor="end">0.0</text>
<line x1="271.3" x2="273.5" y1="291.65" y2="291.65" stroke="#333" stroke-width="0.5"/>
<text x="269.8" y="293.45" font-size="5" fill="#4D4D4D" text-anchor="end">2.5</text>
<line x1="271.3" x2="273.5" y1="275.9" y2="275.9" stroke="#333" stroke-width="0.5"/>
<text x="269.8" y="277.7" font-size="5" fill="#4D4D4D" text-anchor="end">5.0</text>
<line x1="273.5" x2="273.5" y1="260" y2="320" stroke="#1A1A1A" stroke-width="1"/>
<clipPath id="cl1"><rect x="240" y="259" width="30" height="70"/></clipPath>
<g clip-path="url(#cl1)"><text transform="translate(257,257.4) rotate(-90)" font-size="6" fill="#000" text-anchor="end">Duration Difference (VR-RL)</text></g>
<line x1="271.5" x2="467" y1="307.6" y2="307.6" stroke="#111" stroke-width="1.3" stroke-dasharray="3.1,3.6"/>
<line x1="295.8" x2="295.8" y1="308.66" y2="295.75" stroke="#E41A1C" stroke-width="0.9"/>
<line x1="291.8" x2="299.8" y1="308.66" y2="308.66" stroke="#E41A1C" stroke-width="0.9"/>
<line x1="291.8" x2="299.8" y1="295.75" y2="295.75" stroke="#E41A1C" stroke-width="0.9"/>
<rect x="293.9" y="300.46" width="3.8" height="3.8" fill="#E41A1C"/>
<line x1="333.1" x2="333.1" y1="306.9" y2="285.98" stroke="#E41A1C" stroke-width="0.9"/>
<line x1="329.1" x2="337.1" y1="306.9" y2="306.9" stroke="#E41A1C" stroke-width="0.9"/>
<line x1="329.1" x2="337.1" y1="285.98" y2="285.98" stroke="#E41A1C" stroke-width="0.9"/>
<rect x="331.2" y="294.48" width="3.8" height="3.8" fill="#E41A1C"/>
<line x1="370.4" x2="370.4" y1="299.21" y2="262.98" stroke="#E41A1C" stroke-width="0.9"/>
<line x1="366.4" x2="374.4" y1="299.21" y2="299.21" stroke="#E41A1C" stroke-width="0.9"/>
<line x1="366.4" x2="374.4" y1="262.98" y2="262.98" stroke="#E41A1C" stroke-width="0.9"/>
<rect x="368.5" y="279.04" width="3.8" height="3.8" fill="#E41A1C"/>
<line x1="407.7" x2="407.7" y1="305.19" y2="284.72" stroke="#E41A1C" stroke-width="0.9"/>
<line x1="403.7" x2="411.7" y1="305.19" y2="305.19" stroke="#E41A1C" stroke-width="0.9"/>
<line x1="403.7" x2="411.7" y1="284.72" y2="284.72" stroke="#E41A1C" stroke-width="0.9"/>
<rect x="405.8" y="292.9" width="3.8" height="3.8" fill="#E41A1C"/>
<line x1="445" x2="445" y1="326.3" y2="289.76" stroke="#E41A1C" stroke-width="0.9"/>
<line x1="441" x2="449" y1="326.3" y2="326.3" stroke="#E41A1C" stroke-width="0.9"/>
<line x1="441" x2="449" y1="289.76" y2="289.76" stroke="#E41A1C" stroke-width="0.9"/>
<rect x="443.1" y="305.5" width="3.8" height="3.8" fill="#E41A1C"/>
</svg>
</body></html>
